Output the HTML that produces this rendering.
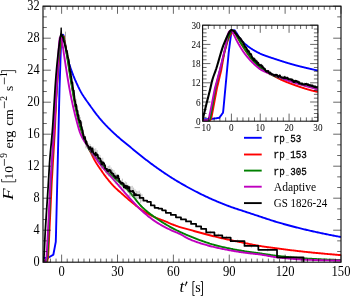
<!DOCTYPE html>
<html><head><meta charset="utf-8">
<style>
html,body{margin:0;padding:0;background:#fff;}
body{width:350px;height:296px;overflow:hidden;font-family:"Liberation Serif",serif;}
svg{display:block;opacity:0.999;will-change:transform;}
text{font-family:"Liberation Serif",serif;fill:#000;}
.mono{font-family:"Liberation Mono",monospace;}
</style></head><body>
<svg width="350" height="296" viewBox="0 0 350 296">
<rect width="350" height="296" fill="#fff"/>
<defs>
<clipPath id="cm"><rect x="43.0" y="6.2" width="298.0" height="256.0"/></clipPath>
<clipPath id="ci"><rect x="202.6" y="25.2" width="115.29999999999998" height="96.0"/></clipPath>
</defs>
<g clip-path="url(#cm)" fill="none" stroke-width="1.9" stroke-linejoin="round" stroke-linecap="butt">
<path d="M42.50,257.92 L42.69,257.92 L42.87,257.92 L43.06,257.92 L43.25,257.92 L43.43,257.92 L43.62,257.92 L43.81,257.92 L43.99,257.92 L44.18,257.92 L44.37,257.92 L44.56,257.92 L44.74,257.92 L44.93,257.92 L45.12,257.92 L45.30,257.92 L45.49,257.92 L45.68,257.92 L45.86,257.92 L46.05,257.92 L46.24,257.92 L46.42,257.92 L46.61,257.92 L46.80,257.92 L46.98,257.92 L47.17,257.92 L47.36,257.92 L47.55,257.92 L47.73,257.92 L47.92,257.82 L48.11,257.71 L48.29,257.60 L48.48,257.50 L48.67,257.39 L48.85,257.28 L49.04,257.18 L49.23,257.07 L49.41,256.97 L49.60,256.86 L49.79,256.75 L49.97,256.65 L50.16,256.54 L50.35,256.44 L50.54,256.33 L50.72,256.22 L50.91,256.12 L51.10,256.01 L51.28,255.91 L51.47,255.80 L51.66,255.69 L51.84,255.59 L52.03,255.48 L52.22,255.38 L52.40,255.27 L52.59,255.16 L52.78,255.06 L52.96,254.95 L53.15,254.85 L53.34,254.74 L53.53,253.75 L53.71,252.77 L53.90,251.78 L54.09,250.79 L54.27,249.81 L54.46,248.82 L54.65,247.83 L54.83,246.85 L55.02,245.86 L55.21,244.87 L55.39,243.89 L55.58,242.90 L55.77,241.91 L55.95,236.19 L56.14,228.44 L56.33,220.69 L56.52,212.94 L56.70,205.19 L56.89,197.43 L57.08,189.68 L57.26,181.93 L57.45,174.18 L57.64,166.43 L57.82,158.68 L58.01,150.93 L58.20,143.18 L58.38,135.42 L58.57,127.67 L58.76,119.92 L58.94,112.17 L59.13,104.42 L59.32,96.67 L59.51,88.92 L59.69,83.35 L59.88,77.78 L60.07,72.22 L60.25,66.65 L60.44,61.08 L60.63,55.51 L60.81,49.95 L61.00,44.38 L61.19,42.49 L61.37,40.88 L61.56,39.54 L61.75,38.44 L61.93,37.57 L62.12,36.90 L62.31,36.27 L62.50,35.71 L62.68,35.25 L62.87,34.95 L63.06,34.84 L63.24,34.98 L63.43,35.39 L63.62,36.00 L63.80,36.77 L63.99,37.64 L64.18,38.58 L64.36,39.51 L64.55,40.40 L64.74,41.31 L64.92,42.33 L65.11,43.43 L65.30,44.57 L65.49,45.75 L65.67,46.92 L65.86,48.06 L66.05,49.15 L66.23,50.22 L66.42,51.31 L66.61,52.40 L66.79,53.49 L66.98,54.55 L67.17,55.58 L67.35,56.55 L67.54,57.47 L67.73,58.30 L67.91,59.07 L68.10,59.83 L68.29,60.56 L68.48,61.26 L68.66,61.95 L68.85,62.62 L69.04,63.27 L69.22,63.91 L69.41,64.52 L69.60,65.13 L69.78,65.72 L69.97,66.30 L70.16,66.86 L70.34,67.42 L70.53,67.97 L70.72,68.51 L70.90,69.04 L71.09,69.57 L71.28,70.10 L71.47,70.62 L71.65,71.14 L71.84,71.66 L72.03,72.17 L72.21,72.68 L72.40,73.18 L72.59,73.68 L72.77,74.16 L72.96,74.64 L73.15,75.12 L73.33,75.59 L73.52,76.05 L73.71,76.51 L73.89,76.96 L74.08,77.41 L74.27,77.85 L74.46,78.29 L74.64,78.73 L74.83,79.16 L75.02,79.59 L75.20,80.02 L75.39,80.44 L75.58,80.86 L75.76,81.28 L75.95,81.70 L76.14,82.11 L76.32,82.53 L76.51,82.94 L76.70,83.35 L76.88,83.76 L77.07,84.17 L77.26,84.58 L77.45,84.99 L77.63,85.39 L77.82,85.80 L78.01,86.20 L78.19,86.60 L78.38,86.99 L78.57,87.38 L78.75,87.77 L78.94,88.16 L79.13,88.54 L79.31,88.92 L79.50,89.29 L79.69,89.66 L79.87,90.03 L80.06,90.39 L80.25,90.74 L80.44,91.09 L80.62,91.43 L80.81,91.77 L81.00,92.10 L81.18,92.42 L81.37,92.75 L81.56,93.06 L81.74,93.38 L81.93,93.69 L82.12,94.00 L82.30,94.31 L82.49,94.61 L82.68,94.91 L82.86,95.21 L83.05,95.50 L83.24,95.79 L83.43,96.08 L83.61,96.37 L83.80,96.66 L83.99,96.94 L84.17,97.22 L84.36,97.50 L84.55,97.78 L84.73,98.05 L84.92,98.33 L85.11,98.60 L85.29,98.87 L85.48,99.14 L85.67,99.41 L85.85,99.67 L86.04,99.94 L86.23,100.20 L86.42,100.47 L86.60,100.73 L86.79,100.99 L86.98,101.25 L87.16,101.51 L87.35,101.77 L87.54,102.03 L87.72,102.29 L87.91,102.55 L88.10,102.81 L88.28,103.07 L88.47,103.33 L88.66,103.59 L88.84,103.85 L89.03,104.11 L89.22,104.37 L89.41,104.63 L89.59,104.90 L89.78,105.16 L89.97,105.42 L90.15,105.68 L90.34,105.94 L90.53,106.20 L90.71,106.46 L90.90,106.72 L91.09,106.98 L91.27,107.24 L91.46,107.50 L91.65,107.76 L91.83,108.02 L92.02,108.27 L92.21,108.53 L92.40,108.79 L92.58,109.05 L92.77,109.30 L92.96,109.56 L93.14,109.82 L93.33,110.07 L93.52,110.33 L93.70,110.58 L93.89,110.83 L94.08,111.09 L94.26,111.34 L94.45,111.59 L94.64,111.84 L94.82,112.09 L95.01,112.34 L95.20,112.59 L95.39,112.84 L95.57,113.09 L95.76,113.34 L95.95,113.58 L96.13,113.83 L96.32,114.07 L96.51,114.32 L96.69,114.56 L96.88,114.80 L97.07,115.04 L97.25,115.28 L97.44,115.52 L97.63,115.76 L97.81,116.00 L98.00,116.23 L98.19,116.47 L98.38,116.70 L98.56,116.94 L98.75,117.17 L98.94,117.40 L99.12,117.63 L99.31,117.86 L99.50,118.08 L99.68,118.31 L99.87,118.54 L100.06,118.76 L100.24,118.98 L100.43,119.21 L100.62,119.43 L100.80,119.64 L100.99,119.86 L101.18,120.08 L101.37,120.29 L101.55,120.51 L101.74,120.72 L101.93,120.93 L102.11,121.14 L102.30,121.35 L102.49,121.56 L102.67,121.77 L102.86,121.98 L103.05,122.18 L103.23,122.39 L103.42,122.60 L103.61,122.80 L103.79,123.00 L103.98,123.21 L104.17,123.41 L104.36,123.61 L104.54,123.81 L104.73,124.01 L104.92,124.21 L105.10,124.41 L105.29,124.61 L105.48,124.80 L105.66,125.00 L105.85,125.20 L106.04,125.39 L106.22,125.59 L106.41,125.78 L106.60,125.97 L106.78,126.17 L106.97,126.36 L107.16,126.55 L107.35,126.74 L107.53,126.93 L107.72,127.12 L107.91,127.31 L108.09,127.50 L108.28,127.69 L108.47,127.87 L108.65,128.06 L108.84,128.25 L109.03,128.43 L109.21,128.62 L109.40,128.80 L109.59,128.98 L109.77,129.17 L109.96,129.35 L110.15,129.53 L110.34,129.72 L110.52,129.90 L110.71,130.08 L110.90,130.26 L111.08,130.44 L111.27,130.62 L111.46,130.80 L111.64,130.98 L111.83,131.16 L112.02,131.33 L112.20,131.51 L112.39,131.69 L112.58,131.87 L112.76,132.04 L112.95,132.22 L113.14,132.39 L113.33,132.57 L113.51,132.74 L113.70,132.92 L113.89,133.09 L114.07,133.27 L114.26,133.44 L114.45,133.61 L114.63,133.79 L114.82,133.96 L115.01,134.13 L115.19,134.30 L115.38,134.48 L115.57,134.65 L115.75,134.82 L115.94,134.99 L116.13,135.16 L116.32,135.33 L116.50,135.50 L116.69,135.67 L116.88,135.84 L117.06,136.01 L117.25,136.18 L118.18,137.01 L119.12,137.83 L120.05,138.63 L120.99,139.42 L121.92,140.20 L122.86,140.97 L123.79,141.74 L124.72,142.50 L125.66,143.26 L126.59,144.02 L127.53,144.78 L128.46,145.55 L129.40,146.32 L130.33,147.09 L131.27,147.87 L132.20,148.64 L133.13,149.41 L134.07,150.18 L135.00,150.95 L135.94,151.72 L136.87,152.48 L137.81,153.24 L138.74,154.00 L139.68,154.75 L140.61,155.50 L141.54,156.25 L142.48,156.98 L143.41,157.71 L144.35,158.44 L145.28,159.16 L146.22,159.88 L147.15,160.59 L148.08,161.31 L149.02,162.01 L149.95,162.72 L150.89,163.42 L151.82,164.12 L152.76,164.81 L153.69,165.49 L154.62,166.17 L155.56,166.85 L156.49,167.52 L157.43,168.19 L158.36,168.85 L159.30,169.50 L160.23,170.15 L161.17,170.80 L162.10,171.44 L163.03,172.08 L163.97,172.71 L164.90,173.34 L165.84,173.96 L166.77,174.58 L167.71,175.20 L168.64,175.81 L169.57,176.42 L170.51,177.02 L171.44,177.61 L172.38,178.20 L173.31,178.79 L174.25,179.37 L175.18,179.94 L176.12,180.51 L177.05,181.08 L177.98,181.64 L178.92,182.19 L179.85,182.74 L180.79,183.29 L181.72,183.83 L182.66,184.36 L183.59,184.90 L184.53,185.42 L185.46,185.95 L186.39,186.46 L187.33,186.98 L188.26,187.49 L189.20,188.00 L190.13,188.51 L191.07,189.01 L192.00,189.51 L192.93,190.01 L193.87,190.50 L194.80,190.99 L195.74,191.48 L196.67,191.96 L197.61,192.43 L198.54,192.91 L199.47,193.37 L200.41,193.84 L201.34,194.30 L202.28,194.75 L203.21,195.20 L204.15,195.65 L205.08,196.09 L206.02,196.54 L206.95,196.97 L207.88,197.41 L208.82,197.84 L209.75,198.26 L210.69,198.68 L211.62,199.10 L212.56,199.52 L213.49,199.93 L214.43,200.34 L215.36,200.74 L216.29,201.14 L217.23,201.53 L218.16,201.92 L219.10,202.31 L220.03,202.70 L220.97,203.08 L221.90,203.46 L222.83,203.83 L223.77,204.20 L224.70,204.57 L225.64,204.93 L226.57,205.29 L227.51,205.64 L228.44,205.99 L229.38,206.34 L230.31,206.68 L231.24,207.02 L232.18,207.35 L233.11,207.68 L234.05,208.00 L234.98,208.32 L235.92,208.63 L236.85,208.94 L237.78,209.24 L238.72,209.55 L239.65,209.85 L240.59,210.15 L241.52,210.45 L242.46,210.75 L243.39,211.06 L244.32,211.36 L245.26,211.67 L246.19,211.98 L247.13,212.29 L248.06,212.60 L249.00,212.91 L249.93,213.22 L250.87,213.53 L251.80,213.84 L252.73,214.16 L253.67,214.47 L254.60,214.78 L255.54,215.09 L256.47,215.40 L257.41,215.71 L258.34,216.01 L259.27,216.32 L260.21,216.63 L261.14,216.93 L262.08,217.24 L263.01,217.55 L263.95,217.86 L264.88,218.17 L265.82,218.48 L266.75,218.80 L267.68,219.11 L268.62,219.42 L269.55,219.72 L270.49,220.03 L271.42,220.33 L272.36,220.63 L273.29,220.93 L274.23,221.23 L275.16,221.52 L276.09,221.81 L277.03,222.09 L277.96,222.37 L278.90,222.64 L279.83,222.91 L280.77,223.18 L281.70,223.44 L282.63,223.71 L283.57,223.97 L284.50,224.23 L285.44,224.49 L286.37,224.75 L287.31,225.01 L288.24,225.26 L289.18,225.51 L290.11,225.76 L291.04,226.01 L291.98,226.26 L292.91,226.51 L293.85,226.75 L294.78,226.99 L295.72,227.23 L296.65,227.47 L297.58,227.70 L298.52,227.94 L299.45,228.17 L300.39,228.40 L301.32,228.63 L302.26,228.86 L303.19,229.08 L304.12,229.30 L305.06,229.53 L305.99,229.75 L306.93,229.96 L307.86,230.18 L308.80,230.39 L309.73,230.61 L310.67,230.82 L311.60,231.03 L312.53,231.24 L313.47,231.45 L314.40,231.66 L315.34,231.86 L316.27,232.07 L317.21,232.27 L318.14,232.48 L319.07,232.68 L320.01,232.88 L320.94,233.08 L321.88,233.28 L322.81,233.47 L323.75,233.67 L324.68,233.86 L325.62,234.05 L326.55,234.24 L327.48,234.43 L328.42,234.62 L329.35,234.81 L330.29,234.99 L331.22,235.18 L332.16,235.36 L333.09,235.54 L334.02,235.72 L334.96,235.89 L335.89,236.07 L336.83,236.24 L337.76,236.41 L338.70,236.58 L339.63,236.75 L340.57,236.92 L341.50,237.08" stroke="#0000ff"/>
<path d="M42.50,261.50 L42.69,261.50 L42.87,261.50 L43.06,261.50 L43.25,261.50 L43.43,261.50 L43.62,261.50 L43.81,261.50 L43.99,261.50 L44.18,261.50 L44.37,261.50 L44.56,261.50 L44.74,261.50 L44.93,261.50 L45.12,261.50 L45.30,261.50 L45.49,261.50 L45.68,261.50 L45.86,261.50 L46.05,261.50 L46.24,261.50 L46.42,261.50 L46.61,261.50 L46.80,261.50 L46.98,261.50 L47.17,261.50 L47.36,260.70 L47.55,259.91 L47.73,259.11 L47.92,258.32 L48.11,257.52 L48.29,253.87 L48.48,250.21 L48.67,246.55 L48.85,242.89 L49.04,239.23 L49.23,235.31 L49.41,231.39 L49.60,227.46 L49.79,223.54 L49.97,219.62 L50.16,215.70 L50.35,211.78 L50.54,207.85 L50.72,203.93 L50.91,200.01 L51.10,196.09 L51.28,192.17 L51.47,188.24 L51.66,184.32 L51.84,180.74 L52.03,177.67 L52.22,174.59 L52.40,171.52 L52.59,168.45 L52.78,165.38 L52.96,162.30 L53.15,159.23 L53.34,156.16 L53.53,153.08 L53.71,150.01 L53.90,146.94 L54.09,143.87 L54.27,140.79 L54.46,137.72 L54.65,134.65 L54.83,130.60 L55.02,126.54 L55.21,122.49 L55.39,118.44 L55.58,114.39 L55.77,110.33 L55.95,106.28 L56.14,102.23 L56.33,98.18 L56.52,94.12 L56.70,90.77 L56.89,88.12 L57.08,85.47 L57.26,82.82 L57.45,80.17 L57.64,77.52 L57.82,74.87 L58.01,72.22 L58.20,69.56 L58.38,66.91 L58.57,64.26 L58.76,62.17 L58.94,60.10 L59.13,58.08 L59.32,56.12 L59.51,54.25 L59.69,52.48 L59.88,50.83 L60.07,49.31 L60.25,47.95 L60.44,46.77 L60.63,45.70 L60.81,44.69 L61.00,43.73 L61.19,42.84 L61.37,42.00 L61.56,41.23 L61.75,40.53 L61.93,39.89 L62.12,39.31 L62.31,38.81 L62.50,38.34 L62.68,37.86 L62.87,37.42 L63.06,37.02 L63.24,36.71 L63.43,36.50 L63.62,36.43 L63.80,36.66 L63.99,37.29 L64.18,38.22 L64.36,39.33 L64.55,40.54 L64.74,41.72 L64.92,42.79 L65.11,43.77 L65.30,44.77 L65.49,45.79 L65.67,46.83 L65.86,47.88 L66.05,48.95 L66.23,50.02 L66.42,51.11 L66.61,52.20 L66.79,53.30 L66.98,54.41 L67.17,55.51 L67.35,56.63 L67.54,57.76 L67.73,58.91 L67.91,60.07 L68.10,61.24 L68.29,62.42 L68.48,63.61 L68.66,64.81 L68.85,66.01 L69.04,67.22 L69.22,68.43 L69.41,69.64 L69.60,70.85 L69.78,72.06 L69.97,73.27 L70.16,74.48 L70.34,75.68 L70.53,76.87 L70.72,78.06 L70.90,79.24 L71.09,80.40 L71.28,81.56 L71.47,82.70 L71.65,83.83 L71.84,84.94 L72.03,86.04 L72.21,87.15 L72.40,88.26 L72.59,89.36 L72.77,90.46 L72.96,91.56 L73.15,92.66 L73.33,93.75 L73.52,94.84 L73.71,95.92 L73.89,97.00 L74.08,98.07 L74.27,99.12 L74.46,100.17 L74.64,101.21 L74.83,102.24 L75.02,103.25 L75.20,104.26 L75.39,105.24 L75.58,106.22 L75.76,107.18 L75.95,108.12 L76.14,109.04 L76.32,109.95 L76.51,110.83 L76.70,111.71 L76.88,112.58 L77.07,113.44 L77.26,114.30 L77.45,115.14 L77.63,115.97 L77.82,116.80 L78.01,117.61 L78.19,118.42 L78.38,119.21 L78.57,119.99 L78.75,120.76 L78.94,121.52 L79.13,122.26 L79.31,122.99 L79.50,123.71 L79.69,124.42 L79.87,125.11 L80.06,125.78 L80.25,126.45 L80.44,127.09 L80.62,127.73 L80.81,128.35 L81.00,128.96 L81.18,129.57 L81.37,130.16 L81.56,130.75 L81.74,131.32 L81.93,131.89 L82.12,132.45 L82.30,133.00 L82.49,133.54 L82.68,134.07 L82.86,134.60 L83.05,135.12 L83.24,135.63 L83.43,136.13 L83.61,136.63 L83.80,137.12 L83.99,137.61 L84.17,138.08 L84.36,138.56 L84.55,139.02 L84.73,139.48 L84.92,139.93 L85.11,140.38 L85.29,140.81 L85.48,141.24 L85.67,141.66 L85.85,142.08 L86.04,142.49 L86.23,142.90 L86.42,143.30 L86.60,143.70 L86.79,144.09 L86.98,144.48 L87.16,144.87 L87.35,145.26 L87.54,145.64 L87.72,146.02 L87.91,146.40 L88.10,146.79 L88.28,147.17 L88.47,147.55 L88.66,147.93 L88.84,148.31 L89.03,148.70 L89.22,149.09 L89.41,149.48 L89.59,149.87 L89.78,150.27 L89.97,150.66 L90.15,151.06 L90.34,151.45 L90.53,151.85 L90.71,152.25 L90.90,152.65 L91.09,153.05 L91.27,153.44 L91.46,153.84 L91.65,154.23 L91.83,154.63 L92.02,155.02 L92.21,155.41 L92.40,155.80 L92.58,156.18 L92.77,156.56 L92.96,156.94 L93.14,157.32 L93.33,157.69 L93.52,158.06 L93.70,158.42 L93.89,158.78 L94.08,159.13 L94.26,159.48 L94.45,159.83 L94.64,160.16 L94.82,160.50 L95.01,160.82 L95.20,161.15 L95.39,161.46 L95.57,161.78 L95.76,162.09 L95.95,162.40 L96.13,162.71 L96.32,163.01 L96.51,163.31 L96.69,163.61 L96.88,163.90 L97.07,164.20 L97.25,164.49 L97.44,164.78 L97.63,165.06 L97.81,165.35 L98.00,165.63 L98.19,165.91 L98.38,166.19 L98.56,166.47 L98.75,166.74 L98.94,167.02 L99.12,167.29 L99.31,167.57 L99.50,167.84 L99.68,168.11 L99.87,168.38 L100.06,168.66 L100.24,168.93 L100.43,169.20 L100.62,169.47 L100.80,169.74 L100.99,170.01 L101.18,170.29 L101.37,170.56 L101.55,170.83 L101.74,171.11 L101.93,171.38 L102.11,171.66 L102.30,171.93 L102.49,172.20 L102.67,172.48 L102.86,172.75 L103.05,173.02 L103.23,173.28 L103.42,173.55 L103.61,173.82 L103.79,174.08 L103.98,174.34 L104.17,174.60 L104.36,174.85 L104.54,175.11 L104.73,175.36 L104.92,175.61 L105.10,175.85 L105.29,176.10 L105.48,176.34 L105.66,176.59 L105.85,176.83 L106.04,177.07 L106.22,177.31 L106.41,177.56 L106.60,177.80 L106.78,178.04 L106.97,178.27 L107.16,178.51 L107.35,178.75 L107.53,178.99 L107.72,179.22 L107.91,179.45 L108.09,179.69 L108.28,179.92 L108.47,180.15 L108.65,180.38 L108.84,180.61 L109.03,180.84 L109.21,181.07 L109.40,181.29 L109.59,181.52 L109.77,181.74 L109.96,181.97 L110.15,182.19 L110.34,182.41 L110.52,182.63 L110.71,182.84 L110.90,183.06 L111.08,183.28 L111.27,183.49 L111.46,183.70 L111.64,183.91 L111.83,184.12 L112.02,184.33 L112.20,184.54 L112.39,184.74 L112.58,184.95 L112.76,185.15 L112.95,185.35 L113.14,185.55 L113.33,185.75 L113.51,185.95 L113.70,186.14 L113.89,186.33 L114.07,186.52 L114.26,186.71 L114.45,186.90 L114.63,187.09 L114.82,187.27 L115.01,187.46 L115.19,187.64 L115.38,187.82 L115.57,188.00 L115.75,188.18 L115.94,188.36 L116.13,188.54 L116.32,188.71 L116.50,188.89 L116.69,189.06 L116.88,189.23 L117.06,189.41 L117.25,189.58 L118.18,190.42 L119.12,191.26 L120.05,192.08 L120.99,192.90 L121.92,193.73 L122.86,194.56 L123.79,195.39 L124.72,196.20 L125.66,197.02 L126.59,197.82 L127.53,198.62 L128.46,199.41 L129.40,200.20 L130.33,200.98 L131.27,201.76 L132.20,202.54 L133.13,203.33 L134.07,204.11 L135.00,204.88 L135.94,205.64 L136.87,206.38 L137.81,207.11 L138.74,207.81 L139.68,208.48 L140.61,209.14 L141.54,209.79 L142.48,210.43 L143.41,211.05 L144.35,211.65 L145.28,212.24 L146.22,212.81 L147.15,213.36 L148.08,213.89 L149.02,214.40 L149.95,214.89 L150.89,215.38 L151.82,215.85 L152.76,216.30 L153.69,216.74 L154.62,217.17 L155.56,217.59 L156.49,218.00 L157.43,218.38 L158.36,218.75 L159.30,219.10 L160.23,219.44 L161.17,219.78 L162.10,220.12 L163.03,220.46 L163.97,220.81 L164.90,221.18 L165.84,221.57 L166.77,221.98 L167.71,222.41 L168.64,222.83 L169.57,223.25 L170.51,223.65 L171.44,224.03 L172.38,224.40 L173.31,224.76 L174.25,225.12 L175.18,225.47 L176.12,225.81 L177.05,226.14 L177.98,226.47 L178.92,226.78 L179.85,227.08 L180.79,227.37 L181.72,227.65 L182.66,227.92 L183.59,228.18 L184.53,228.43 L185.46,228.68 L186.39,228.93 L187.33,229.18 L188.26,229.43 L189.20,229.68 L190.13,229.94 L191.07,230.19 L192.00,230.45 L192.93,230.71 L193.87,230.97 L194.80,231.22 L195.74,231.48 L196.67,231.74 L197.61,232.00 L198.54,232.26 L199.47,232.51 L200.41,232.77 L201.34,233.02 L202.28,233.28 L203.21,233.53 L204.15,233.79 L205.08,234.04 L206.02,234.29 L206.95,234.54 L207.88,234.78 L208.82,235.03 L209.75,235.27 L210.69,235.51 L211.62,235.75 L212.56,235.99 L213.49,236.22 L214.43,236.45 L215.36,236.68 L216.29,236.91 L217.23,237.13 L218.16,237.35 L219.10,237.57 L220.03,237.78 L220.97,238.00 L221.90,238.21 L222.83,238.42 L223.77,238.63 L224.70,238.84 L225.64,239.04 L226.57,239.25 L227.51,239.45 L228.44,239.65 L229.38,239.85 L230.31,240.05 L231.24,240.25 L232.18,240.45 L233.11,240.64 L234.05,240.84 L234.98,241.03 L235.92,241.23 L236.85,241.42 L237.78,241.61 L238.72,241.80 L239.65,241.99 L240.59,242.19 L241.52,242.38 L242.46,242.56 L243.39,242.75 L244.32,242.94 L245.26,243.13 L246.19,243.32 L247.13,243.51 L248.06,243.70 L249.00,243.89 L249.93,244.08 L250.87,244.27 L251.80,244.46 L252.73,244.65 L253.67,244.83 L254.60,245.01 L255.54,245.19 L256.47,245.37 L257.41,245.54 L258.34,245.71 L259.27,245.87 L260.21,246.02 L261.14,246.17 L262.08,246.32 L263.01,246.47 L263.95,246.61 L264.88,246.75 L265.82,246.89 L266.75,247.03 L267.68,247.16 L268.62,247.29 L269.55,247.42 L270.49,247.55 L271.42,247.68 L272.36,247.80 L273.29,247.93 L274.23,248.05 L275.16,248.18 L276.09,248.30 L277.03,248.42 L277.96,248.54 L278.90,248.66 L279.83,248.79 L280.77,248.91 L281.70,249.03 L282.63,249.15 L283.57,249.27 L284.50,249.39 L285.44,249.51 L286.37,249.63 L287.31,249.74 L288.24,249.86 L289.18,249.98 L290.11,250.09 L291.04,250.21 L291.98,250.32 L292.91,250.43 L293.85,250.55 L294.78,250.66 L295.72,250.77 L296.65,250.88 L297.58,250.99 L298.52,251.10 L299.45,251.20 L300.39,251.31 L301.32,251.41 L302.26,251.52 L303.19,251.62 L304.12,251.72 L305.06,251.82 L305.99,251.92 L306.93,252.02 L307.86,252.11 L308.80,252.21 L309.73,252.30 L310.67,252.40 L311.60,252.49 L312.53,252.59 L313.47,252.68 L314.40,252.77 L315.34,252.86 L316.27,252.96 L317.21,253.05 L318.14,253.14 L319.07,253.22 L320.01,253.31 L320.94,253.40 L321.88,253.49 L322.81,253.57 L323.75,253.66 L324.68,253.75 L325.62,253.83 L326.55,253.91 L327.48,254.00 L328.42,254.08 L329.35,254.16 L330.29,254.24 L331.22,254.32 L332.16,254.40 L333.09,254.48 L334.02,254.55 L334.96,254.63 L335.89,254.70 L336.83,254.78 L337.76,254.85 L338.70,254.93 L339.63,255.00 L340.57,255.07 L341.50,255.14" stroke="#ff0000"/>
<path d="M42.50,261.50 L42.69,261.50 L42.87,261.50 L43.06,261.50 L43.25,261.50 L43.43,261.50 L43.62,261.50 L43.81,261.50 L43.99,261.50 L44.18,261.50 L44.37,261.50 L44.56,261.50 L44.74,261.50 L44.93,261.50 L45.12,261.50 L45.30,261.50 L45.49,261.50 L45.68,261.50 L45.86,261.50 L46.05,261.50 L46.24,261.50 L46.42,261.50 L46.61,261.10 L46.80,260.31 L46.98,259.51 L47.17,258.72 L47.36,257.92 L47.55,255.54 L47.73,251.56 L47.92,247.58 L48.11,243.61 L48.29,239.63 L48.48,235.50 L48.67,231.22 L48.85,226.93 L49.04,222.65 L49.23,218.37 L49.41,214.09 L49.60,209.80 L49.79,205.52 L49.97,201.24 L50.16,196.96 L50.35,192.67 L50.54,188.39 L50.72,184.11 L50.91,180.50 L51.10,177.55 L51.28,174.60 L51.47,171.65 L51.66,168.71 L51.84,165.76 L52.03,162.81 L52.22,159.86 L52.40,156.92 L52.59,153.97 L52.78,151.02 L52.96,148.07 L53.15,145.13 L53.34,142.18 L53.53,139.23 L53.71,136.29 L53.90,133.34 L54.09,130.39 L54.27,127.45 L54.46,124.50 L54.65,121.56 L54.83,118.61 L55.02,115.67 L55.21,112.73 L55.39,109.78 L55.58,106.84 L55.77,103.89 L55.95,100.95 L56.14,98.00 L56.33,95.06 L56.52,92.12 L56.70,89.17 L56.89,86.23 L57.08,83.28 L57.26,80.34 L57.45,77.39 L57.64,74.45 L57.82,71.50 L58.01,68.56 L58.20,65.62 L58.38,62.67 L58.57,60.56 L58.76,58.47 L58.94,56.42 L59.13,54.41 L59.32,52.47 L59.51,50.61 L59.69,48.84 L59.88,47.19 L60.07,45.66 L60.25,44.28 L60.44,43.05 L60.63,41.99 L60.81,41.02 L61.00,40.04 L61.19,39.10 L61.37,38.25 L61.56,37.51 L61.75,36.93 L61.93,36.56 L62.12,36.43 L62.31,36.43 L62.50,36.43 L62.68,36.43 L62.87,36.43 L63.06,36.43 L63.24,36.60 L63.43,37.06 L63.62,37.74 L63.80,38.57 L63.99,39.48 L64.18,40.40 L64.36,41.25 L64.55,42.10 L64.74,42.99 L64.92,43.94 L65.11,44.92 L65.30,45.94 L65.49,47.00 L65.67,48.07 L65.86,49.17 L66.05,50.27 L66.23,51.39 L66.42,52.51 L66.61,53.62 L66.79,54.72 L66.98,55.82 L67.17,56.94 L67.35,58.08 L67.54,59.23 L67.73,60.40 L67.91,61.57 L68.10,62.76 L68.29,63.96 L68.48,65.16 L68.66,66.37 L68.85,67.58 L69.04,68.79 L69.22,70.01 L69.41,71.23 L69.60,72.44 L69.78,73.65 L69.97,74.86 L70.16,76.06 L70.34,77.25 L70.53,78.43 L70.72,79.60 L70.90,80.76 L71.09,81.90 L71.28,83.03 L71.47,84.15 L71.65,85.25 L71.84,86.35 L72.03,87.46 L72.21,88.56 L72.40,89.67 L72.59,90.77 L72.77,91.87 L72.96,92.96 L73.15,94.05 L73.33,95.13 L73.52,96.20 L73.71,97.27 L73.89,98.33 L74.08,99.38 L74.27,100.42 L74.46,101.44 L74.64,102.46 L74.83,103.46 L75.02,104.45 L75.20,105.42 L75.39,106.38 L75.58,107.32 L75.76,108.24 L75.95,109.15 L76.14,110.04 L76.32,110.92 L76.51,111.79 L76.70,112.65 L76.88,113.50 L77.07,114.35 L77.26,115.18 L77.45,116.01 L77.63,116.83 L77.82,117.63 L78.01,118.42 L78.19,119.21 L78.38,119.98 L78.57,120.73 L78.75,121.48 L78.94,122.21 L79.13,122.93 L79.31,123.63 L79.50,124.32 L79.69,124.99 L79.87,125.65 L80.06,126.29 L80.25,126.92 L80.44,127.54 L80.62,128.14 L80.81,128.74 L81.00,129.33 L81.18,129.91 L81.37,130.48 L81.56,131.04 L81.74,131.60 L81.93,132.14 L82.12,132.68 L82.30,133.21 L82.49,133.74 L82.68,134.26 L82.86,134.77 L83.05,135.28 L83.24,135.78 L83.43,136.27 L83.61,136.76 L83.80,137.25 L83.99,137.73 L84.17,138.21 L84.36,138.69 L84.55,139.16 L84.73,139.63 L84.92,140.09 L85.11,140.56 L85.29,141.02 L85.48,141.48 L85.67,141.95 L85.85,142.41 L86.04,142.88 L86.23,143.33 L86.42,143.79 L86.60,144.24 L86.79,144.68 L86.98,145.12 L87.16,145.55 L87.35,145.97 L87.54,146.38 L87.72,146.78 L87.91,147.17 L88.10,147.55 L88.28,147.91 L88.47,148.26 L88.66,148.59 L88.84,148.90 L89.03,149.20 L89.22,149.49 L89.41,149.77 L89.59,150.05 L89.78,150.31 L89.97,150.57 L90.15,150.82 L90.34,151.07 L90.53,151.31 L90.71,151.55 L90.90,151.78 L91.09,152.00 L91.27,152.22 L91.46,152.44 L91.65,152.66 L91.83,152.87 L92.02,153.08 L92.21,153.29 L92.40,153.49 L92.58,153.70 L92.77,153.91 L92.96,154.11 L93.14,154.32 L93.33,154.53 L93.52,154.73 L93.70,154.94 L93.89,155.16 L94.08,155.37 L94.26,155.59 L94.45,155.81 L94.64,156.04 L94.82,156.26 L95.01,156.48 L95.20,156.70 L95.39,156.93 L95.57,157.15 L95.76,157.37 L95.95,157.59 L96.13,157.81 L96.32,158.03 L96.51,158.24 L96.69,158.46 L96.88,158.68 L97.07,158.90 L97.25,159.12 L97.44,159.33 L97.63,159.55 L97.81,159.77 L98.00,159.98 L98.19,160.20 L98.38,160.42 L98.56,160.64 L98.75,160.85 L98.94,161.07 L99.12,161.29 L99.31,161.51 L99.50,161.73 L99.68,161.95 L99.87,162.17 L100.06,162.39 L100.24,162.61 L100.43,162.83 L100.62,163.06 L100.80,163.28 L100.99,163.51 L101.18,163.73 L101.37,163.96 L101.55,164.19 L101.74,164.42 L101.93,164.65 L102.11,164.89 L102.30,165.13 L102.49,165.37 L102.67,165.61 L102.86,165.86 L103.05,166.10 L103.23,166.35 L103.42,166.59 L103.61,166.84 L103.79,167.08 L103.98,167.33 L104.17,167.58 L104.36,167.82 L104.54,168.07 L104.73,168.31 L104.92,168.55 L105.10,168.79 L105.29,169.03 L105.48,169.27 L105.66,169.50 L105.85,169.73 L106.04,169.96 L106.22,170.19 L106.41,170.41 L106.60,170.63 L106.78,170.85 L106.97,171.06 L107.16,171.27 L107.35,171.47 L107.53,171.67 L107.72,171.87 L107.91,172.06 L108.09,172.24 L108.28,172.43 L108.47,172.61 L108.65,172.79 L108.84,172.97 L109.03,173.14 L109.21,173.32 L109.40,173.49 L109.59,173.66 L109.77,173.82 L109.96,173.99 L110.15,174.15 L110.34,174.32 L110.52,174.48 L110.71,174.64 L110.90,174.79 L111.08,174.95 L111.27,175.11 L111.46,175.26 L111.64,175.42 L111.83,175.58 L112.02,175.73 L112.20,175.88 L112.39,176.04 L112.58,176.19 L112.76,176.35 L112.95,176.50 L113.14,176.66 L113.33,176.81 L113.51,176.97 L113.70,177.13 L113.89,177.29 L114.07,177.45 L114.26,177.61 L114.45,177.77 L114.63,177.93 L114.82,178.10 L115.01,178.26 L115.19,178.43 L115.38,178.60 L115.57,178.77 L115.75,178.93 L115.94,179.10 L116.13,179.27 L116.32,179.44 L116.50,179.60 L116.69,179.77 L116.88,179.94 L117.06,180.11 L117.25,180.27 L118.18,181.10 L119.12,181.94 L120.05,182.77 L120.99,183.61 L121.92,184.46 L122.86,185.32 L123.79,186.19 L124.72,187.07 L125.66,187.97 L126.59,188.89 L127.53,189.83 L128.46,190.80 L129.40,191.81 L130.33,192.87 L131.27,193.98 L132.20,195.13 L133.13,196.30 L134.07,197.49 L135.00,198.69 L135.94,199.89 L136.87,201.07 L137.81,202.24 L138.74,203.37 L139.68,204.47 L140.61,205.51 L141.54,206.50 L142.48,207.42 L143.41,208.29 L144.35,209.13 L145.28,209.95 L146.22,210.74 L147.15,211.51 L148.08,212.27 L149.02,213.00 L149.95,213.72 L150.89,214.43 L151.82,215.12 L152.76,215.80 L153.69,216.46 L154.62,217.12 L155.56,217.78 L156.49,218.42 L157.43,219.07 L158.36,219.70 L159.30,220.32 L160.23,220.93 L161.17,221.53 L162.10,222.13 L163.03,222.71 L163.97,223.29 L164.90,223.86 L165.84,224.42 L166.77,224.97 L167.71,225.51 L168.64,226.05 L169.57,226.57 L170.51,227.10 L171.44,227.61 L172.38,228.11 L173.31,228.60 L174.25,229.08 L175.18,229.56 L176.12,230.02 L177.05,230.48 L177.98,230.94 L178.92,231.38 L179.85,231.83 L180.79,232.27 L181.72,232.70 L182.66,233.13 L183.59,233.55 L184.53,233.97 L185.46,234.38 L186.39,234.78 L187.33,235.18 L188.26,235.58 L189.20,235.96 L190.13,236.35 L191.07,236.73 L192.00,237.11 L192.93,237.49 L193.87,237.86 L194.80,238.23 L195.74,238.60 L196.67,238.96 L197.61,239.32 L198.54,239.67 L199.47,240.02 L200.41,240.36 L201.34,240.69 L202.28,241.02 L203.21,241.35 L204.15,241.67 L205.08,241.99 L206.02,242.31 L206.95,242.63 L207.88,242.94 L208.82,243.25 L209.75,243.56 L210.69,243.85 L211.62,244.15 L212.56,244.43 L213.49,244.71 L214.43,244.98 L215.36,245.23 L216.29,245.48 L217.23,245.72 L218.16,245.95 L219.10,246.18 L220.03,246.40 L220.97,246.62 L221.90,246.84 L222.83,247.06 L223.77,247.27 L224.70,247.47 L225.64,247.68 L226.57,247.88 L227.51,248.08 L228.44,248.27 L229.38,248.47 L230.31,248.65 L231.24,248.84 L232.18,249.02 L233.11,249.21 L234.05,249.38 L234.98,249.56 L235.92,249.73 L236.85,249.90 L237.78,250.07 L238.72,250.24 L239.65,250.40 L240.59,250.56 L241.52,250.72 L242.46,250.88 L243.39,251.03 L244.32,251.19 L245.26,251.34 L246.19,251.49 L247.13,251.63 L248.06,251.77 L249.00,251.91 L249.93,252.04 L250.87,252.17 L251.80,252.29 L252.73,252.42 L253.67,252.54 L254.60,252.66 L255.54,252.79 L256.47,252.91 L257.41,253.03 L258.34,253.16 L259.27,253.28 L260.21,253.41 L261.14,253.55 L262.08,253.68 L263.01,253.82 L263.95,253.96 L264.88,254.10 L265.82,254.24 L266.75,254.38 L267.68,254.53 L268.62,254.67 L269.55,254.81 L270.49,254.95 L271.42,255.08 L272.36,255.22 L273.29,255.35 L274.23,255.48 L275.16,255.60 L276.09,255.72 L277.03,255.84 L277.96,255.95 L278.90,256.05 L279.83,256.16 L280.77,256.26 L281.70,256.36 L282.63,256.46 L283.57,256.56 L284.50,256.66 L285.44,256.76 L286.37,256.85 L287.31,256.95 L288.24,257.04 L289.18,257.13 L290.11,257.22 L291.04,257.31 L291.98,257.40 L292.91,257.49 L293.85,257.57 L294.78,257.65 L295.72,257.73 L296.65,257.81 L297.58,257.89 L298.52,257.97 L299.45,258.04 L300.39,258.11 L301.32,258.18 L302.26,258.25 L303.19,258.31 L304.12,258.37 L305.06,258.43 L305.99,258.49 L306.93,258.55 L307.86,258.60 L308.80,258.65 L309.73,258.71 L310.67,258.76 L311.60,258.81 L312.53,258.86 L313.47,258.91 L314.40,258.96 L315.34,259.01 L316.27,259.06 L317.21,259.11 L318.14,259.16 L319.07,259.21 L320.01,259.25 L320.94,259.30 L321.88,259.34 L322.81,259.38 L323.75,259.43 L324.68,259.47 L325.62,259.51 L326.55,259.55 L327.48,259.59 L328.42,259.62 L329.35,259.66 L330.29,259.69 L331.22,259.73 L332.16,259.76 L333.09,259.79 L334.02,259.82 L334.96,259.84 L335.89,259.87 L336.83,259.89 L337.76,259.92 L338.70,259.94 L339.63,259.96 L340.57,259.97 L341.50,259.99" stroke="#008000"/>
<path d="M42.50,261.50 L42.69,261.50 L42.87,261.50 L43.06,261.50 L43.25,261.50 L43.43,261.50 L43.62,261.50 L43.81,261.50 L43.99,261.50 L44.18,261.50 L44.37,261.50 L44.56,261.50 L44.74,261.50 L44.93,261.50 L45.12,261.50 L45.30,261.50 L45.49,261.50 L45.68,261.10 L45.86,260.31 L46.05,259.51 L46.24,258.72 L46.42,257.92 L46.61,255.87 L46.80,252.55 L46.98,249.24 L47.17,245.93 L47.36,242.61 L47.55,239.30 L47.73,235.78 L47.92,232.07 L48.11,228.36 L48.29,224.65 L48.48,220.94 L48.67,217.23 L48.85,213.52 L49.04,209.80 L49.23,206.09 L49.41,202.38 L49.60,198.67 L49.79,194.96 L49.97,191.25 L50.16,187.54 L50.35,183.82 L50.54,180.63 L50.72,177.95 L50.91,175.27 L51.10,172.59 L51.28,169.91 L51.47,167.23 L51.66,164.56 L51.84,161.88 L52.03,159.20 L52.22,156.52 L52.40,153.84 L52.59,151.16 L52.78,148.48 L52.96,145.80 L53.15,143.12 L53.34,140.45 L53.53,137.77 L53.71,135.09 L53.90,132.41 L54.09,129.56 L54.27,126.54 L54.46,123.52 L54.65,120.51 L54.83,117.49 L55.02,114.47 L55.21,111.45 L55.39,108.43 L55.58,105.41 L55.77,102.40 L55.95,99.38 L56.14,96.36 L56.33,93.34 L56.52,90.32 L56.70,87.31 L56.89,84.29 L57.08,81.27 L57.26,78.25 L57.45,75.23 L57.64,72.22 L57.82,68.42 L58.01,64.12 L58.20,59.62 L58.38,55.19 L58.57,51.11 L58.76,47.68 L58.94,45.18 L59.13,43.23 L59.32,41.38 L59.51,39.74 L59.69,38.42 L59.88,37.54 L60.07,37.22 L60.25,37.24 L60.44,37.30 L60.63,37.39 L60.81,37.51 L61.00,37.65 L61.19,37.82 L61.37,38.02 L61.56,38.42 L61.75,39.17 L61.93,40.20 L62.12,41.42 L62.31,42.77 L62.50,44.15 L62.68,45.51 L62.87,46.77 L63.06,47.96 L63.24,49.20 L63.43,50.48 L63.62,51.77 L63.80,53.08 L63.99,54.39 L64.18,55.70 L64.36,56.99 L64.55,58.26 L64.74,59.49 L64.92,60.70 L65.11,61.91 L65.30,63.13 L65.49,64.34 L65.67,65.55 L65.86,66.76 L66.05,67.96 L66.23,69.16 L66.42,70.36 L66.61,71.55 L66.79,72.74 L66.98,73.92 L67.17,75.09 L67.35,76.26 L67.54,77.41 L67.73,78.56 L67.91,79.70 L68.10,80.83 L68.29,81.95 L68.48,83.05 L68.66,84.15 L68.85,85.23 L69.04,86.30 L69.22,87.35 L69.41,88.39 L69.60,89.42 L69.78,90.42 L69.97,91.42 L70.16,92.39 L70.34,93.35 L70.53,94.31 L70.72,95.25 L70.90,96.19 L71.09,97.12 L71.28,98.04 L71.47,98.95 L71.65,99.85 L71.84,100.74 L72.03,101.63 L72.21,102.51 L72.40,103.37 L72.59,104.23 L72.77,105.09 L72.96,105.93 L73.15,106.77 L73.33,107.59 L73.52,108.41 L73.71,109.22 L73.89,110.03 L74.08,110.82 L74.27,111.61 L74.46,112.38 L74.64,113.16 L74.83,113.92 L75.02,114.67 L75.20,115.42 L75.39,116.16 L75.58,116.89 L75.76,117.61 L75.95,118.34 L76.14,119.07 L76.32,119.80 L76.51,120.52 L76.70,121.25 L76.88,121.97 L77.07,122.68 L77.26,123.40 L77.45,124.10 L77.63,124.80 L77.82,125.49 L78.01,126.17 L78.19,126.84 L78.38,127.50 L78.57,128.14 L78.75,128.78 L78.94,129.39 L79.13,130.00 L79.31,130.58 L79.50,131.15 L79.69,131.71 L79.87,132.24 L80.06,132.75 L80.25,133.24 L80.44,133.71 L80.62,134.16 L80.81,134.58 L81.00,135.00 L81.18,135.41 L81.37,135.81 L81.56,136.20 L81.74,136.58 L81.93,136.95 L82.12,137.32 L82.30,137.68 L82.49,138.03 L82.68,138.38 L82.86,138.72 L83.05,139.05 L83.24,139.38 L83.43,139.70 L83.61,140.01 L83.80,140.32 L83.99,140.63 L84.17,140.93 L84.36,141.23 L84.55,141.52 L84.73,141.81 L84.92,142.10 L85.11,142.38 L85.29,142.66 L85.48,142.94 L85.67,143.21 L85.85,143.48 L86.04,143.76 L86.23,144.02 L86.42,144.29 L86.60,144.56 L86.79,144.83 L86.98,145.09 L87.16,145.36 L87.35,145.63 L87.54,145.89 L87.72,146.16 L87.91,146.43 L88.10,146.70 L88.28,146.97 L88.47,147.25 L88.66,147.52 L88.84,147.80 L89.03,148.08 L89.22,148.37 L89.41,148.65 L89.59,148.94 L89.78,149.23 L89.97,149.51 L90.15,149.80 L90.34,150.09 L90.53,150.37 L90.71,150.66 L90.90,150.94 L91.09,151.23 L91.27,151.51 L91.46,151.80 L91.65,152.08 L91.83,152.36 L92.02,152.65 L92.21,152.93 L92.40,153.21 L92.58,153.49 L92.77,153.77 L92.96,154.05 L93.14,154.33 L93.33,154.61 L93.52,154.89 L93.70,155.17 L93.89,155.45 L94.08,155.72 L94.26,156.00 L94.45,156.28 L94.64,156.55 L94.82,156.82 L95.01,157.10 L95.20,157.37 L95.39,157.64 L95.57,157.91 L95.76,158.18 L95.95,158.45 L96.13,158.72 L96.32,158.99 L96.51,159.25 L96.69,159.52 L96.88,159.78 L97.07,160.05 L97.25,160.31 L97.44,160.57 L97.63,160.84 L97.81,161.10 L98.00,161.35 L98.19,161.61 L98.38,161.87 L98.56,162.13 L98.75,162.38 L98.94,162.63 L99.12,162.89 L99.31,163.14 L99.50,163.39 L99.68,163.64 L99.87,163.89 L100.06,164.13 L100.24,164.38 L100.43,164.62 L100.62,164.87 L100.80,165.11 L100.99,165.35 L101.18,165.59 L101.37,165.83 L101.55,166.06 L101.74,166.30 L101.93,166.53 L102.11,166.76 L102.30,166.99 L102.49,167.22 L102.67,167.45 L102.86,167.68 L103.05,167.90 L103.23,168.13 L103.42,168.35 L103.61,168.57 L103.79,168.79 L103.98,169.01 L104.17,169.23 L104.36,169.45 L104.54,169.66 L104.73,169.88 L104.92,170.09 L105.10,170.30 L105.29,170.52 L105.48,170.73 L105.66,170.94 L105.85,171.15 L106.04,171.36 L106.22,171.57 L106.41,171.77 L106.60,171.98 L106.78,172.19 L106.97,172.39 L107.16,172.60 L107.35,172.80 L107.53,173.01 L107.72,173.21 L107.91,173.42 L108.09,173.62 L108.28,173.82 L108.47,174.02 L108.65,174.23 L108.84,174.43 L109.03,174.63 L109.21,174.83 L109.40,175.04 L109.59,175.24 L109.77,175.44 L109.96,175.64 L110.15,175.84 L110.34,176.05 L110.52,176.25 L110.71,176.45 L110.90,176.65 L111.08,176.86 L111.27,177.06 L111.46,177.26 L111.64,177.47 L111.83,177.67 L112.02,177.88 L112.20,178.08 L112.39,178.29 L112.58,178.49 L112.76,178.70 L112.95,178.91 L113.14,179.11 L113.33,179.32 L113.51,179.53 L113.70,179.74 L113.89,179.95 L114.07,180.17 L114.26,180.38 L114.45,180.59 L114.63,180.80 L114.82,181.02 L115.01,181.23 L115.19,181.45 L115.38,181.66 L115.57,181.88 L115.75,182.09 L115.94,182.31 L116.13,182.53 L116.32,182.74 L116.50,182.96 L116.69,183.18 L116.88,183.40 L117.06,183.61 L117.25,183.83 L118.18,184.92 L119.12,186.02 L120.05,187.12 L120.99,188.21 L121.92,189.31 L122.86,190.40 L123.79,191.48 L124.72,192.56 L125.66,193.63 L126.59,194.69 L127.53,195.73 L128.46,196.76 L129.40,197.79 L130.33,198.82 L131.27,199.86 L132.20,200.89 L133.13,201.91 L134.07,202.93 L135.00,203.94 L135.94,204.94 L136.87,205.93 L137.81,206.90 L138.74,207.84 L139.68,208.77 L140.61,209.67 L141.54,210.55 L142.48,211.40 L143.41,212.22 L144.35,213.03 L145.28,213.83 L146.22,214.62 L147.15,215.39 L148.08,216.15 L149.02,216.89 L149.95,217.62 L150.89,218.33 L151.82,219.03 L152.76,219.71 L153.69,220.37 L154.62,221.01 L155.56,221.64 L156.49,222.25 L157.43,222.84 L158.36,223.42 L159.30,223.98 L160.23,224.53 L161.17,225.07 L162.10,225.59 L163.03,226.11 L163.97,226.61 L164.90,227.10 L165.84,227.59 L166.77,228.07 L167.71,228.54 L168.64,229.00 L169.57,229.45 L170.51,229.91 L171.44,230.35 L172.38,230.77 L173.31,231.17 L174.25,231.56 L175.18,231.95 L176.12,232.33 L177.05,232.72 L177.98,233.12 L178.92,233.53 L179.85,233.97 L180.79,234.44 L181.72,234.95 L182.66,235.49 L183.59,236.04 L184.53,236.60 L185.46,237.16 L186.39,237.69 L187.33,238.20 L188.26,238.66 L189.20,239.08 L190.13,239.49 L191.07,239.88 L192.00,240.26 L192.93,240.63 L193.87,240.98 L194.80,241.33 L195.74,241.67 L196.67,242.00 L197.61,242.32 L198.54,242.64 L199.47,242.94 L200.41,243.25 L201.34,243.54 L202.28,243.83 L203.21,244.12 L204.15,244.40 L205.08,244.67 L206.02,244.95 L206.95,245.21 L207.88,245.47 L208.82,245.73 L209.75,245.98 L210.69,246.22 L211.62,246.46 L212.56,246.70 L213.49,246.93 L214.43,247.15 L215.36,247.37 L216.29,247.58 L217.23,247.78 L218.16,247.98 L219.10,248.18 L220.03,248.38 L220.97,248.57 L221.90,248.76 L222.83,248.95 L223.77,249.14 L224.70,249.33 L225.64,249.51 L226.57,249.69 L227.51,249.87 L228.44,250.04 L229.38,250.22 L230.31,250.39 L231.24,250.55 L232.18,250.72 L233.11,250.88 L234.05,251.04 L234.98,251.20 L235.92,251.36 L236.85,251.51 L237.78,251.66 L238.72,251.81 L239.65,251.96 L240.59,252.10 L241.52,252.24 L242.46,252.38 L243.39,252.52 L244.32,252.65 L245.26,252.78 L246.19,252.91 L247.13,253.03 L248.06,253.14 L249.00,253.25 L249.93,253.36 L250.87,253.46 L251.80,253.56 L252.73,253.66 L253.67,253.76 L254.60,253.86 L255.54,253.96 L256.47,254.07 L257.41,254.17 L258.34,254.29 L259.27,254.40 L260.21,254.53 L261.14,254.66 L262.08,254.80 L263.01,254.95 L263.95,255.11 L264.88,255.27 L265.82,255.44 L266.75,255.61 L267.68,255.78 L268.62,255.95 L269.55,256.13 L270.49,256.30 L271.42,256.46 L272.36,256.63 L273.29,256.79 L274.23,256.94 L275.16,257.08 L276.09,257.22 L277.03,257.35 L277.96,257.46 L278.90,257.56 L279.83,257.66 L280.77,257.76 L281.70,257.86 L282.63,257.96 L283.57,258.05 L284.50,258.14 L285.44,258.24 L286.37,258.33 L287.31,258.41 L288.24,258.50 L289.18,258.58 L290.11,258.67 L291.04,258.75 L291.98,258.83 L292.91,258.90 L293.85,258.98 L294.78,259.05 L295.72,259.12 L296.65,259.18 L297.58,259.25 L298.52,259.31 L299.45,259.37 L300.39,259.43 L301.32,259.48 L302.26,259.53 L303.19,259.58 L304.12,259.63 L305.06,259.67 L305.99,259.71 L306.93,259.74 L307.86,259.78 L308.80,259.81 L309.73,259.84 L310.67,259.88 L311.60,259.91 L312.53,259.94 L313.47,259.97 L314.40,260.01 L315.34,260.04 L316.27,260.07 L317.21,260.10 L318.14,260.13 L319.07,260.16 L320.01,260.18 L320.94,260.21 L321.88,260.24 L322.81,260.26 L323.75,260.29 L324.68,260.31 L325.62,260.34 L326.55,260.36 L327.48,260.38 L328.42,260.40 L329.35,260.42 L330.29,260.44 L331.22,260.45 L332.16,260.47 L333.09,260.48 L334.02,260.50 L334.96,260.51 L335.89,260.52 L336.83,260.53 L337.76,260.53 L338.70,260.54 L339.63,260.54 L340.57,260.54 L341.50,260.55" stroke="#bf00bf"/>
<path d="M64.92,48.94V41.07M66.33,54.61V47.38M67.73,60.72V51.72M69.13,68.61V58.57M70.53,76.16V67.33M71.93,88.02V78.93M73.33,94.20V86.99M74.74,104.81V95.71M76.14,109.99V99.08M77.54,116.00V105.46M78.94,125.19V115.13M80.34,124.70V117.10M81.74,132.36V121.64M83.15,139.37V128.81M84.55,141.64V133.82M85.95,148.28V138.60M87.35,148.76V141.53M88.75,150.97V143.35M90.15,152.52V144.10M91.55,155.84V148.05M92.96,156.53V146.35M94.36,159.22V148.81M95.76,156.84V148.31M97.16,158.60V150.17M98.56,161.86V154.26M99.96,162.42V154.93M101.37,169.46V159.46M102.77,167.23V157.69M104.17,169.16V161.78M105.57,173.14V164.07M106.97,174.91V166.15M108.37,176.39V165.86M109.78,175.42V165.40M111.18,177.15V167.60M112.58,178.56V169.21M113.98,181.03V170.09M115.38,183.54V172.45M116.78,182.23V173.73M118.18,182.56V174.44M119.59,186.22V175.90M120.99,187.37V179.96M122.39,187.24V178.64M123.79,191.00V183.56M125.19,189.80V181.37M126.59,189.78V182.34M128.00,192.74V184.43M129.40,196.08V185.78M130.80,196.80V186.04M132.20,196.14V185.83M133.60,197.01V187.62M135.00,198.94V189.33M136.40,199.45V190.85M137.81,199.06V191.24M139.21,199.60V190.70M140.61,202.92V192.85M142.01,201.59V194.18M210.31,234.22V230.72M218.35,237.00V233.50M226.48,239.39V235.89M237.60,242.97V239.47M251.43,247.74V244.24M267.68,251.56V248.06M290.30,259.11V255.61" stroke="#777" stroke-width="0.45"/>
<path d="M42.50,261.50 L42.97,261.50 L43.43,261.50 L43.90,258.06 L44.37,249.74 L44.84,239.55 L45.30,230.48 L45.77,223.09 L46.24,215.87 L46.70,208.75 L47.17,201.65 L47.64,194.51 L48.11,187.25 L48.57,179.75 L49.04,171.67 L49.51,163.82 L49.98,157.26 L50.44,151.76 L50.91,146.84 L51.38,142.08 L51.84,137.09 L52.31,131.47 L52.78,125.05 L53.25,118.03 L53.71,110.61 L54.18,103.01 L54.65,95.44 L55.11,88.11 L55.58,81.23 L56.05,75.01 L56.52,69.58 L56.98,64.57 L57.45,59.88 L57.92,55.48 L58.38,51.37 L58.85,47.51 L59.32,43.78 L59.79,40.23 L60.25,37.31 L60.72,35.21 L61.19,34.04 L61.65,34.41 L62.12,35.23 L62.59,36.85 L63.06,37.47 L63.52,40.65 L63.99,41.58 L64.46,42.60 L64.92,45.01 L65.39,46.01 L65.86,47.75 L66.33,50.99 L66.79,50.73 L67.26,53.09 L67.73,56.22 L68.20,58.16 L68.66,59.87 L69.13,63.59 L69.60,66.52 L70.06,71.15 L70.53,71.74 L71.00,75.43 L71.47,78.29 L71.93,83.47 L72.40,82.28 L72.87,87.05 L73.33,90.60 L73.80,90.35 L74.27,95.77 L74.74,100.26 L75.20,101.54 L75.67,106.43 L76.14,104.54 L76.60,108.60 L77.07,111.08 L77.54,110.73 L78.01,116.07 L78.47,115.09 L78.94,120.16 L79.41,120.11 L79.88,122.54 L80.34,120.90 L80.81,122.29 L81.28,126.73 L81.74,127.00 L82.21,130.03 L82.68,130.77 L83.15,134.09 L83.61,136.95 L84.08,138.79 L84.55,137.73 L85.01,137.03 L85.48,141.09 L85.95,143.44 L86.42,141.42 L86.88,144.33 L87.35,145.14 L87.82,145.50 L88.28,146.47 L88.75,147.16 L89.22,149.06 L89.69,147.09 L90.15,148.31 L90.62,147.12 L91.09,149.55 L91.55,151.95 L92.02,150.10 L92.49,148.28 L92.96,151.44 L93.42,152.63 L93.89,153.60 L94.36,154.02 L94.83,153.67 L95.29,155.40 L95.76,152.58 L96.23,155.42 L96.69,155.50 L97.16,154.39 L97.63,154.88 L98.10,157.63 L98.56,158.06 L99.50,158.06 L99.50,158.68 L100.43,158.68 L100.43,161.11 L101.37,161.11 L101.37,164.46 L102.30,164.46 L102.30,162.46 L103.23,162.46 L103.23,163.47 L104.17,163.47 L104.17,165.47 L105.10,165.47 L105.10,168.61 L106.04,168.61 L106.04,168.87 L106.97,168.87 L106.97,170.53 L107.91,170.53 L107.91,171.13 L108.84,171.13 L108.84,169.88 L109.78,169.88 L109.78,170.41 L110.71,170.41 L110.71,172.37 L111.64,172.37 L111.64,173.31 L112.58,173.31 L112.58,173.88 L113.51,173.88 L113.51,175.56 L114.45,175.56 L114.45,176.40 L115.38,176.40 L115.38,177.99 L116.32,177.99 L116.32,177.98 L117.25,177.98 L117.25,175.72 L118.18,175.72 L118.18,178.50 L119.12,178.50 L119.12,181.06 L120.05,181.06 L120.05,182.18 L120.99,182.18 L120.99,183.66 L121.92,183.66 L121.92,182.94 L122.86,182.94 L122.86,183.87 L123.79,183.87 L123.79,187.28 L124.72,187.28 L124.72,185.59 L125.66,185.59 L125.66,187.90 L126.59,187.90 L126.59,186.06 L127.53,186.06 L127.53,188.59 L128.46,188.59 L128.46,187.24 L129.40,187.24 L129.40,190.93 L130.33,190.93 L130.33,191.42 L131.27,191.42 L131.27,191.32 L132.20,191.32 L132.20,190.99 L133.13,190.99 L133.13,192.32 L134.07,192.32 L134.07,195.40 L135.00,195.40 L135.00,194.13 L135.94,194.13 L135.94,195.15 L139.68,195.15 L139.68,197.89 L143.41,197.89 L143.41,200.56 L147.15,200.56 L147.15,201.82 L150.89,201.82 L150.89,205.45 L154.62,205.45 L154.62,207.80 L158.36,207.80 L158.36,208.62 L162.10,208.62 L162.10,210.30 L165.84,210.30 L165.84,212.79 L170.88,212.79 L170.88,214.96 L175.93,214.96 L175.93,217.33 L180.97,217.33 L180.97,219.42 L186.02,219.42 L186.02,221.38 L191.07,221.38 L191.07,223.91 L196.11,223.91 L196.11,226.45 L201.16,226.45 L201.16,228.95 L206.20,228.95 L206.20,232.47 L214.43,232.47 L214.43,235.25 L222.27,235.25 L222.27,237.64 L230.68,237.64 L230.68,241.22 L244.51,241.22 L244.51,245.99 L258.34,245.99 L258.34,249.81 L277.03,249.81 L277.03,257.36 L303.56,257.36 L303.56,269.45 L341.50,269.45" stroke="#000000" stroke-width="1.75"/>
<path d="M60.53,35.63 L61.19,27.68 L61.75,35.63" stroke="#000" stroke-width="1.0"/>
<path d="M65.49,31.65 V38.81" stroke="#777" stroke-width="0.6"/>
</g>
<rect x="202.6" y="25.2" width="115.29999999999998" height="96.0" fill="#fff"/>
<g clip-path="url(#ci)" fill="none" stroke-width="1.9" stroke-linejoin="round">
<path d="M202.50,119.08 L202.79,119.08 L203.08,119.08 L203.37,119.08 L203.66,119.08 L203.94,119.08 L204.23,119.08 L204.52,119.08 L204.81,119.08 L205.10,119.08 L205.39,119.08 L205.68,119.08 L205.96,119.08 L206.25,119.08 L206.54,119.08 L206.83,119.08 L207.12,119.08 L207.41,119.08 L207.70,119.08 L207.99,119.08 L208.27,119.08 L208.56,119.08 L208.85,119.08 L209.14,119.08 L209.43,119.08 L209.72,119.08 L210.01,119.08 L210.30,119.08 L210.58,119.08 L210.87,119.03 L211.16,118.99 L211.45,118.95 L211.74,118.91 L212.03,118.86 L212.32,118.82 L212.61,118.78 L212.89,118.74 L213.18,118.70 L213.47,118.65 L213.76,118.61 L214.05,118.57 L214.34,118.53 L214.63,118.48 L214.92,118.44 L215.20,118.40 L215.49,118.36 L215.78,118.32 L216.07,118.27 L216.36,118.23 L216.65,118.19 L216.94,118.15 L217.23,118.10 L217.51,118.06 L217.80,118.02 L218.09,117.98 L218.38,117.94 L218.67,117.89 L218.96,117.85 L219.25,117.81 L219.54,117.42 L219.82,117.02 L220.11,116.63 L220.40,116.24 L220.69,115.84 L220.98,115.45 L221.27,115.06 L221.56,114.67 L221.85,114.27 L222.13,113.88 L222.42,113.49 L222.71,113.09 L223.00,112.70 L223.29,110.42 L223.58,107.34 L223.87,104.25 L224.16,101.16 L224.44,98.08 L224.73,94.99 L225.02,91.91 L225.31,88.82 L225.60,85.73 L225.89,82.65 L226.18,79.56 L226.47,76.47 L226.75,73.39 L227.04,70.30 L227.33,67.21 L227.62,64.13 L227.91,61.04 L228.20,57.96 L228.49,54.87 L228.78,51.78 L229.06,49.57 L229.35,47.35 L229.64,45.13 L229.93,42.92 L230.22,40.70 L230.51,38.48 L230.80,36.27 L231.09,34.05 L231.37,33.30 L231.66,32.66 L231.95,32.12 L232.24,31.69 L232.53,31.34 L232.82,31.07 L233.11,30.82 L233.40,30.60 L233.68,30.42 L233.97,30.29 L234.26,30.25 L234.55,30.33 L234.84,30.54 L235.13,30.85 L235.42,31.23 L235.71,31.66 L235.99,32.09 L236.28,32.49 L236.57,32.92 L236.86,33.39 L237.15,33.90 L237.44,34.43 L237.73,34.96 L238.02,35.47 L238.30,35.95 L238.59,36.41 L238.88,36.86 L239.17,37.32 L239.46,37.76 L239.75,38.19 L240.04,38.61 L240.33,39.01 L240.61,39.39 L240.90,39.75 L241.19,40.09 L241.48,40.42 L241.77,40.74 L242.06,41.06 L242.35,41.36 L242.64,41.66 L242.92,41.96 L243.21,42.25 L243.50,42.53 L243.79,42.81 L244.08,43.08 L244.37,43.34 L244.66,43.60 L244.95,43.86 L245.23,44.11 L245.52,44.36 L245.81,44.60 L246.10,44.84 L246.39,45.08 L246.68,45.31 L246.97,45.54 L247.26,45.77 L247.54,45.99 L247.83,46.21 L248.12,46.43 L248.41,46.65 L248.70,46.86 L248.99,47.07 L249.28,47.27 L249.57,47.48 L249.85,47.68 L250.14,47.88 L250.43,48.07 L250.72,48.27 L251.01,48.46 L251.30,48.65 L251.59,48.83 L251.88,49.02 L252.16,49.20 L252.45,49.38 L252.74,49.56 L253.03,49.73 L253.32,49.91 L253.61,50.08 L253.90,50.25 L254.19,50.42 L254.47,50.59 L254.76,50.75 L255.05,50.92 L255.34,51.08 L255.63,51.25 L255.92,51.41 L256.21,51.57 L256.50,51.73 L256.78,51.89 L257.07,52.04 L257.36,52.20 L257.65,52.35 L257.94,52.50 L258.23,52.65 L258.52,52.80 L258.81,52.94 L259.09,53.09 L259.38,53.23 L259.67,53.37 L259.96,53.50 L260.25,53.64 L260.54,53.77 L260.83,53.90 L261.12,54.03 L261.40,54.16 L261.69,54.28 L261.98,54.40 L262.27,54.52 L262.56,54.64 L262.85,54.76 L263.14,54.88 L263.43,54.99 L263.71,55.10 L264.00,55.21 L264.29,55.32 L264.58,55.43 L264.87,55.54 L265.16,55.65 L265.45,55.75 L265.74,55.86 L266.02,55.96 L266.31,56.07 L266.60,56.17 L266.89,56.27 L267.18,56.37 L267.47,56.47 L267.76,56.57 L268.05,56.67 L268.33,56.76 L268.62,56.86 L268.91,56.96 L269.20,57.05 L269.49,57.15 L269.78,57.24 L270.07,57.34 L270.36,57.43 L270.64,57.53 L270.93,57.62 L271.22,57.72 L271.51,57.81 L271.80,57.90 L272.09,58.00 L272.38,58.09 L272.67,58.18 L272.95,58.28 L273.24,58.37 L273.53,58.46 L273.82,58.56 L274.11,58.65 L274.40,58.75 L274.69,58.84 L274.98,58.94 L275.26,59.03 L275.55,59.13 L275.84,59.22 L276.13,59.32 L276.42,59.41 L276.71,59.51 L277.00,59.60 L277.29,59.70 L277.57,59.79 L277.86,59.89 L278.15,59.98 L278.44,60.08 L278.73,60.17 L279.02,60.27 L279.31,60.36 L279.60,60.46 L279.88,60.55 L280.17,60.64 L280.46,60.74 L280.75,60.83 L281.04,60.93 L281.33,61.02 L281.62,61.11 L281.91,61.21 L282.19,61.30 L282.48,61.39 L282.77,61.48 L283.06,61.58 L283.35,61.67 L283.64,61.76 L283.93,61.85 L284.22,61.94 L284.50,62.03 L284.79,62.12 L285.08,62.21 L285.37,62.30 L285.66,62.39 L285.95,62.48 L286.24,62.57 L286.53,62.66 L286.81,62.75 L287.10,62.84 L287.39,62.93 L287.68,63.02 L287.97,63.10 L288.26,63.19 L288.55,63.28 L288.84,63.36 L289.12,63.45 L289.41,63.53 L289.70,63.62 L289.99,63.70 L290.28,63.79 L290.57,63.87 L290.86,63.96 L291.15,64.04 L291.43,64.12 L291.72,64.20 L292.01,64.29 L292.30,64.37 L292.59,64.45 L292.88,64.53 L293.17,64.61 L293.46,64.69 L293.74,64.77 L294.03,64.85 L294.32,64.92 L294.61,65.00 L294.90,65.08 L295.19,65.16 L295.48,65.23 L295.77,65.31 L296.05,65.39 L296.34,65.46 L296.63,65.54 L296.92,65.61 L297.21,65.69 L297.50,65.76 L297.79,65.84 L298.08,65.91 L298.36,65.98 L298.65,66.06 L298.94,66.13 L299.23,66.20 L299.52,66.28 L299.81,66.35 L300.10,66.42 L300.39,66.49 L300.67,66.56 L300.96,66.64 L301.25,66.71 L301.54,66.78 L301.83,66.85 L302.12,66.92 L302.41,66.99 L302.70,67.06 L302.98,67.13 L303.27,67.20 L303.56,67.27 L303.85,67.34 L304.14,67.41 L304.43,67.48 L304.72,67.55 L305.01,67.61 L305.29,67.68 L305.58,67.75 L305.87,67.82 L306.16,67.89 L306.45,67.96 L306.74,68.02 L307.03,68.09 L307.32,68.16 L307.60,68.23 L307.89,68.29 L308.18,68.36 L308.47,68.43 L308.76,68.49 L309.05,68.56 L309.34,68.63 L309.63,68.69 L309.91,68.76 L310.20,68.83 L310.49,68.89 L310.78,68.96 L311.07,69.02 L311.36,69.09 L311.65,69.16 L311.94,69.22 L312.22,69.29 L312.51,69.35 L312.80,69.42 L313.09,69.48 L313.38,69.55 L313.67,69.62 L313.96,69.68 L314.25,69.75 L314.53,69.81 L314.82,69.88 L315.11,69.94 L315.40,70.01 L315.69,70.07 L315.98,70.14 L316.27,70.20 L316.56,70.27 L316.84,70.34 L317.13,70.40 L317.42,70.47 L317.71,70.53 L318.00,70.60" stroke="#0000ff"/>
<path d="M202.50,120.50 L202.79,120.50 L203.08,120.50 L203.37,120.50 L203.66,120.50 L203.94,120.50 L204.23,120.50 L204.52,120.50 L204.81,120.50 L205.10,120.50 L205.39,120.50 L205.68,120.50 L205.96,120.50 L206.25,120.50 L206.54,120.50 L206.83,120.50 L207.12,120.50 L207.41,120.50 L207.70,120.50 L207.99,120.50 L208.27,120.50 L208.56,120.50 L208.85,120.50 L209.14,120.50 L209.43,120.50 L209.72,120.50 L210.01,120.18 L210.30,119.87 L210.58,119.55 L210.87,119.23 L211.16,118.92 L211.45,117.46 L211.74,116.00 L212.03,114.55 L212.32,113.09 L212.61,111.63 L212.89,110.07 L213.18,108.51 L213.47,106.95 L213.76,105.39 L214.05,103.83 L214.34,102.26 L214.63,100.70 L214.92,99.14 L215.20,97.58 L215.49,96.02 L215.78,94.46 L216.07,92.89 L216.36,91.33 L216.65,89.77 L216.94,88.34 L217.23,87.12 L217.51,85.90 L217.80,84.67 L218.09,83.45 L218.38,82.23 L218.67,81.00 L218.96,79.78 L219.25,78.56 L219.54,77.33 L219.82,76.11 L220.11,74.89 L220.40,73.66 L220.69,72.44 L220.98,71.22 L221.27,69.99 L221.56,68.38 L221.85,66.76 L222.13,65.15 L222.42,63.54 L222.71,61.92 L223.00,60.31 L223.29,58.70 L223.58,57.08 L223.87,55.47 L224.16,53.86 L224.44,52.52 L224.73,51.47 L225.02,50.41 L225.31,49.36 L225.60,48.30 L225.89,47.24 L226.18,46.19 L226.47,45.13 L226.75,44.08 L227.04,43.02 L227.33,41.97 L227.62,41.13 L227.91,40.31 L228.20,39.50 L228.49,38.73 L228.78,37.98 L229.06,37.27 L229.35,36.62 L229.64,36.01 L229.93,35.47 L230.22,35.00 L230.51,34.58 L230.80,34.18 L231.09,33.82 L231.37,33.47 L231.66,33.15 L231.95,32.85 L232.24,32.57 L232.53,32.31 L232.82,32.06 L233.11,31.83 L233.40,31.60 L233.68,31.35 L233.97,31.13 L234.26,30.97 L234.55,30.89 L234.84,31.19 L235.13,32.20 L235.42,33.26 L235.71,33.96 L235.99,34.60 L236.28,35.20 L236.57,35.76 L236.86,36.29 L237.15,36.81 L237.44,37.32 L237.73,37.82 L238.02,38.33 L238.30,38.84 L238.59,39.35 L238.88,39.86 L239.17,40.36 L239.46,40.86 L239.75,41.35 L240.04,41.84 L240.33,42.33 L240.61,42.81 L240.90,43.29 L241.19,43.76 L241.48,44.23 L241.77,44.70 L242.06,45.17 L242.35,45.63 L242.64,46.08 L242.92,46.54 L243.21,46.99 L243.50,47.44 L243.79,47.88 L244.08,48.33 L244.37,48.77 L244.66,49.20 L244.95,49.64 L245.23,50.07 L245.52,50.50 L245.81,50.93 L246.10,51.36 L246.39,51.79 L246.68,52.22 L246.97,52.65 L247.26,53.07 L247.54,53.50 L247.83,53.92 L248.12,54.33 L248.41,54.75 L248.70,55.16 L248.99,55.57 L249.28,55.98 L249.57,56.38 L249.85,56.77 L250.14,57.16 L250.43,57.55 L250.72,57.93 L251.01,58.30 L251.30,58.67 L251.59,59.04 L251.88,59.39 L252.16,59.74 L252.45,60.08 L252.74,60.42 L253.03,60.75 L253.32,61.07 L253.61,61.39 L253.90,61.71 L254.19,62.03 L254.47,62.34 L254.76,62.64 L255.05,62.95 L255.34,63.24 L255.63,63.54 L255.92,63.83 L256.21,64.12 L256.50,64.40 L256.78,64.68 L257.07,64.95 L257.36,65.22 L257.65,65.48 L257.94,65.75 L258.23,66.00 L258.52,66.25 L258.81,66.50 L259.09,66.74 L259.38,66.98 L259.67,67.22 L259.96,67.45 L260.25,67.67 L260.54,67.90 L260.83,68.12 L261.12,68.33 L261.40,68.55 L261.69,68.76 L261.98,68.96 L262.27,69.17 L262.56,69.37 L262.85,69.57 L263.14,69.76 L263.43,69.96 L263.71,70.15 L264.00,70.34 L264.29,70.53 L264.58,70.71 L264.87,70.89 L265.16,71.08 L265.45,71.26 L265.74,71.44 L266.02,71.61 L266.31,71.79 L266.60,71.97 L266.89,72.14 L267.18,72.31 L267.47,72.47 L267.76,72.64 L268.05,72.80 L268.33,72.96 L268.62,73.12 L268.91,73.28 L269.20,73.44 L269.49,73.59 L269.78,73.74 L270.07,73.90 L270.36,74.05 L270.64,74.20 L270.93,74.35 L271.22,74.50 L271.51,74.65 L271.80,74.80 L272.09,74.95 L272.38,75.10 L272.67,75.25 L272.95,75.40 L273.24,75.56 L273.53,75.71 L273.82,75.86 L274.11,76.02 L274.40,76.17 L274.69,76.33 L274.98,76.48 L275.26,76.64 L275.55,76.79 L275.84,76.95 L276.13,77.11 L276.42,77.27 L276.71,77.42 L277.00,77.58 L277.29,77.74 L277.57,77.89 L277.86,78.05 L278.15,78.20 L278.44,78.35 L278.73,78.51 L279.02,78.66 L279.31,78.81 L279.60,78.96 L279.88,79.11 L280.17,79.25 L280.46,79.40 L280.75,79.54 L281.04,79.68 L281.33,79.82 L281.62,79.96 L281.91,80.09 L282.19,80.22 L282.48,80.35 L282.77,80.48 L283.06,80.61 L283.35,80.73 L283.64,80.86 L283.93,80.98 L284.22,81.10 L284.50,81.22 L284.79,81.34 L285.08,81.46 L285.37,81.58 L285.66,81.69 L285.95,81.81 L286.24,81.92 L286.53,82.03 L286.81,82.15 L287.10,82.26 L287.39,82.37 L287.68,82.48 L287.97,82.59 L288.26,82.70 L288.55,82.81 L288.84,82.92 L289.12,83.03 L289.41,83.13 L289.70,83.24 L289.99,83.35 L290.28,83.46 L290.57,83.56 L290.86,83.67 L291.15,83.78 L291.43,83.89 L291.72,83.99 L292.01,84.10 L292.30,84.21 L292.59,84.32 L292.88,84.42 L293.17,84.53 L293.46,84.64 L293.74,84.75 L294.03,84.86 L294.32,84.96 L294.61,85.07 L294.90,85.18 L295.19,85.29 L295.48,85.39 L295.77,85.50 L296.05,85.60 L296.34,85.70 L296.63,85.81 L296.92,85.91 L297.21,86.01 L297.50,86.11 L297.79,86.21 L298.08,86.31 L298.36,86.40 L298.65,86.50 L298.94,86.60 L299.23,86.69 L299.52,86.79 L299.81,86.89 L300.10,86.98 L300.39,87.08 L300.67,87.17 L300.96,87.27 L301.25,87.36 L301.54,87.46 L301.83,87.55 L302.12,87.64 L302.41,87.74 L302.70,87.83 L302.98,87.92 L303.27,88.01 L303.56,88.11 L303.85,88.20 L304.14,88.29 L304.43,88.38 L304.72,88.47 L305.01,88.56 L305.29,88.65 L305.58,88.74 L305.87,88.82 L306.16,88.91 L306.45,89.00 L306.74,89.09 L307.03,89.17 L307.32,89.26 L307.60,89.34 L307.89,89.43 L308.18,89.51 L308.47,89.59 L308.76,89.68 L309.05,89.76 L309.34,89.84 L309.63,89.92 L309.91,90.00 L310.20,90.08 L310.49,90.16 L310.78,90.24 L311.07,90.32 L311.36,90.39 L311.65,90.47 L311.94,90.54 L312.22,90.62 L312.51,90.69 L312.80,90.77 L313.09,90.84 L313.38,90.91 L313.67,90.99 L313.96,91.06 L314.25,91.13 L314.53,91.20 L314.82,91.27 L315.11,91.34 L315.40,91.41 L315.69,91.47 L315.98,91.54 L316.27,91.61 L316.56,91.68 L316.84,91.74 L317.13,91.81 L317.42,91.88 L317.71,91.94 L318.00,92.01" stroke="#ff0000"/>
<path d="M202.50,120.50 L202.79,120.50 L203.08,120.50 L203.37,120.50 L203.66,120.50 L203.94,120.50 L204.23,120.50 L204.52,120.50 L204.81,120.50 L205.10,120.50 L205.39,120.50 L205.68,120.50 L205.96,120.50 L206.25,120.50 L206.54,120.50 L206.83,120.50 L207.12,120.50 L207.41,120.50 L207.70,120.50 L207.99,120.50 L208.27,120.50 L208.56,120.50 L208.85,120.34 L209.14,120.03 L209.43,119.71 L209.72,119.39 L210.01,119.08 L210.30,118.13 L210.58,116.54 L210.87,114.96 L211.16,113.38 L211.45,111.79 L211.74,110.15 L212.03,108.44 L212.32,106.74 L212.61,105.03 L212.89,103.33 L213.18,101.62 L213.47,99.92 L213.76,98.21 L214.05,96.51 L214.34,94.80 L214.63,93.10 L214.92,91.39 L215.20,89.69 L215.49,88.25 L215.78,87.07 L216.07,85.90 L216.36,84.73 L216.65,83.55 L216.94,82.38 L217.23,81.21 L217.51,80.03 L217.80,78.86 L218.09,77.68 L218.38,76.51 L218.67,75.34 L218.96,74.16 L219.25,72.99 L219.54,71.82 L219.82,70.64 L220.11,69.47 L220.40,68.30 L220.69,67.12 L220.98,65.95 L221.27,64.78 L221.56,63.61 L221.85,62.44 L222.13,61.26 L222.42,60.09 L222.71,58.92 L223.00,57.75 L223.29,56.57 L223.58,55.40 L223.87,54.23 L224.16,53.06 L224.44,51.88 L224.73,50.71 L225.02,49.54 L225.31,48.37 L225.60,47.20 L225.89,46.02 L226.18,44.85 L226.47,43.68 L226.75,42.51 L227.04,41.33 L227.33,40.49 L227.62,39.66 L227.91,38.84 L228.20,38.04 L228.49,37.27 L228.78,36.53 L229.06,35.83 L229.35,35.17 L229.64,34.56 L229.93,34.01 L230.22,33.52 L230.51,33.10 L230.80,32.71 L231.09,32.32 L231.37,31.95 L231.66,31.61 L231.95,31.31 L232.24,31.09 L232.53,30.94 L232.82,30.88 L233.11,30.88 L233.40,30.88 L233.68,30.88 L233.97,30.88 L234.26,30.88 L234.55,31.17 L234.84,31.83 L235.13,32.56 L235.42,33.14 L235.71,33.69 L235.99,34.25 L236.28,34.80 L236.57,35.35 L236.86,35.90 L237.15,36.44 L237.44,36.97 L237.73,37.50 L238.02,38.01 L238.30,38.52 L238.59,39.03 L238.88,39.53 L239.17,40.02 L239.46,40.52 L239.75,41.01 L240.04,41.50 L240.33,41.98 L240.61,42.46 L240.90,42.94 L241.19,43.42 L241.48,43.89 L241.77,44.36 L242.06,44.83 L242.35,45.29 L242.64,45.75 L242.92,46.21 L243.21,46.66 L243.50,47.11 L243.79,47.56 L244.08,48.00 L244.37,48.45 L244.66,48.88 L244.95,49.32 L245.23,49.75 L245.52,50.18 L245.81,50.62 L246.10,51.05 L246.39,51.47 L246.68,51.90 L246.97,52.33 L247.26,52.76 L247.54,53.18 L247.83,53.60 L248.12,54.02 L248.41,54.43 L248.70,54.85 L248.99,55.25 L249.28,55.66 L249.57,56.06 L249.85,56.46 L250.14,56.85 L250.43,57.23 L250.72,57.61 L251.01,57.99 L251.30,58.36 L251.59,58.72 L251.88,59.08 L252.16,59.42 L252.45,59.77 L252.74,60.10 L253.03,60.43 L253.32,60.76 L253.61,61.08 L253.90,61.40 L254.19,61.71 L254.47,62.02 L254.76,62.33 L255.05,62.63 L255.34,62.93 L255.63,63.23 L255.92,63.52 L256.21,63.80 L256.50,64.09 L256.78,64.37 L257.07,64.64 L257.36,64.91 L257.65,65.17 L257.94,65.43 L258.23,65.69 L258.52,65.94 L258.81,66.19 L259.09,66.43 L259.38,66.67 L259.67,66.90 L259.96,67.13 L260.25,67.35 L260.54,67.57 L260.83,67.79 L261.12,68.01 L261.40,68.22 L261.69,68.42 L261.98,68.63 L262.27,68.83 L262.56,69.03 L262.85,69.23 L263.14,69.43 L263.43,69.62 L263.71,69.81 L264.00,70.00 L264.29,70.19 L264.58,70.37 L264.87,70.56 L265.16,70.74 L265.45,70.92 L265.74,71.11 L266.02,71.29 L266.31,71.46 L266.60,71.64 L266.89,71.82 L267.18,72.00 L267.47,72.18 L267.76,72.36 L268.05,72.54 L268.33,72.72 L268.62,72.90 L268.91,73.08 L269.20,73.26 L269.49,73.44 L269.78,73.62 L270.07,73.80 L270.36,73.98 L270.64,74.15 L270.93,74.33 L271.22,74.49 L271.51,74.66 L271.80,74.82 L272.09,74.97 L272.38,75.12 L272.67,75.27 L272.95,75.41 L273.24,75.54 L273.53,75.67 L273.82,75.78 L274.11,75.90 L274.40,76.01 L274.69,76.12 L274.98,76.22 L275.26,76.33 L275.55,76.43 L275.84,76.53 L276.13,76.62 L276.42,76.71 L276.71,76.81 L277.00,76.90 L277.29,76.98 L277.57,77.07 L277.86,77.16 L278.15,77.24 L278.44,77.32 L278.73,77.41 L279.02,77.49 L279.31,77.57 L279.60,77.65 L279.88,77.73 L280.17,77.81 L280.46,77.90 L280.75,77.98 L281.04,78.06 L281.33,78.15 L281.62,78.23 L281.91,78.32 L282.19,78.40 L282.48,78.49 L282.77,78.58 L283.06,78.67 L283.35,78.76 L283.64,78.85 L283.93,78.93 L284.22,79.02 L284.50,79.11 L284.79,79.20 L285.08,79.28 L285.37,79.37 L285.66,79.46 L285.95,79.54 L286.24,79.63 L286.53,79.72 L286.81,79.80 L287.10,79.89 L287.39,79.97 L287.68,80.06 L287.97,80.15 L288.26,80.23 L288.55,80.32 L288.84,80.40 L289.12,80.49 L289.41,80.58 L289.70,80.66 L289.99,80.75 L290.28,80.84 L290.57,80.93 L290.86,81.01 L291.15,81.10 L291.43,81.19 L291.72,81.28 L292.01,81.37 L292.30,81.45 L292.59,81.54 L292.88,81.63 L293.17,81.72 L293.46,81.82 L293.74,81.91 L294.03,82.00 L294.32,82.10 L294.61,82.19 L294.90,82.29 L295.19,82.38 L295.48,82.48 L295.77,82.58 L296.05,82.68 L296.34,82.77 L296.63,82.87 L296.92,82.97 L297.21,83.07 L297.50,83.16 L297.79,83.26 L298.08,83.36 L298.36,83.45 L298.65,83.55 L298.94,83.64 L299.23,83.74 L299.52,83.83 L299.81,83.92 L300.10,84.02 L300.39,84.11 L300.67,84.19 L300.96,84.28 L301.25,84.37 L301.54,84.45 L301.83,84.54 L302.12,84.62 L302.41,84.70 L302.70,84.78 L302.98,84.85 L303.27,84.93 L303.56,85.00 L303.85,85.07 L304.14,85.15 L304.43,85.22 L304.72,85.29 L305.01,85.36 L305.29,85.42 L305.58,85.49 L305.87,85.56 L306.16,85.62 L306.45,85.69 L306.74,85.75 L307.03,85.82 L307.32,85.88 L307.60,85.94 L307.89,86.01 L308.18,86.07 L308.47,86.13 L308.76,86.19 L309.05,86.26 L309.34,86.32 L309.63,86.38 L309.91,86.44 L310.20,86.50 L310.49,86.56 L310.78,86.62 L311.07,86.69 L311.36,86.75 L311.65,86.81 L311.94,86.87 L312.22,86.93 L312.51,87.00 L312.80,87.06 L313.09,87.12 L313.38,87.19 L313.67,87.25 L313.96,87.32 L314.25,87.38 L314.53,87.45 L314.82,87.51 L315.11,87.58 L315.40,87.65 L315.69,87.71 L315.98,87.78 L316.27,87.84 L316.56,87.91 L316.84,87.97 L317.13,88.04 L317.42,88.11 L317.71,88.17 L318.00,88.24" stroke="#008000"/>
<path d="M202.50,120.50 L202.79,120.50 L203.08,120.50 L203.37,120.50 L203.66,120.50 L203.94,120.50 L204.23,120.50 L204.52,120.50 L204.81,120.50 L205.10,120.50 L205.39,120.50 L205.68,120.50 L205.96,120.50 L206.25,120.50 L206.54,120.50 L206.83,120.50 L207.12,120.50 L207.41,120.34 L207.70,120.03 L207.99,119.71 L208.27,119.39 L208.56,119.08 L208.85,118.26 L209.14,116.94 L209.43,115.62 L209.72,114.30 L210.01,112.98 L210.30,111.66 L210.58,110.26 L210.87,108.78 L211.16,107.31 L211.45,105.83 L211.74,104.35 L212.03,102.87 L212.32,101.39 L212.61,99.92 L212.89,98.44 L213.18,96.96 L213.47,95.48 L213.76,94.01 L214.05,92.53 L214.34,91.05 L214.63,89.57 L214.92,88.30 L215.20,87.23 L215.49,86.17 L215.78,85.10 L216.07,84.03 L216.36,82.97 L216.65,81.90 L216.94,80.83 L217.23,79.77 L217.51,78.70 L217.80,77.63 L218.09,76.57 L218.38,75.50 L218.67,74.43 L218.96,73.37 L219.25,72.30 L219.54,71.23 L219.82,70.17 L220.11,69.10 L220.40,67.97 L220.69,66.76 L220.98,65.56 L221.27,64.36 L221.56,63.16 L221.85,61.96 L222.13,60.76 L222.42,59.55 L222.71,58.35 L223.00,57.15 L223.29,55.95 L223.58,54.75 L223.87,53.55 L224.16,52.34 L224.44,51.14 L224.73,49.94 L225.02,48.74 L225.31,47.54 L225.60,46.34 L225.89,45.13 L226.18,43.62 L226.47,41.91 L226.75,40.12 L227.04,38.35 L227.33,36.73 L227.62,35.36 L227.91,34.37 L228.20,33.59 L228.49,32.86 L228.78,32.20 L229.06,31.68 L229.35,31.33 L229.64,31.20 L229.93,31.21 L230.22,31.23 L230.51,31.27 L230.80,31.31 L231.09,31.37 L231.37,31.44 L231.66,31.52 L231.95,31.67 L232.24,31.96 L232.53,32.36 L232.82,32.84 L233.11,33.37 L233.40,33.92 L233.68,34.47 L233.97,35.00 L234.26,35.53 L234.55,36.10 L234.84,36.71 L235.13,37.33 L235.42,37.97 L235.71,38.60 L235.99,39.21 L236.28,39.79 L236.57,40.34 L236.86,40.87 L237.15,41.41 L237.44,41.94 L237.73,42.46 L238.02,42.99 L238.30,43.51 L238.59,44.02 L238.88,44.53 L239.17,45.04 L239.46,45.54 L239.75,46.03 L240.04,46.52 L240.33,47.01 L240.61,47.49 L240.90,47.96 L241.19,48.43 L241.48,48.90 L241.77,49.35 L242.06,49.80 L242.35,50.25 L242.64,50.69 L242.92,51.12 L243.21,51.54 L243.50,51.96 L243.79,52.37 L244.08,52.77 L244.37,53.17 L244.66,53.56 L244.95,53.94 L245.23,54.33 L245.52,54.70 L245.81,55.08 L246.10,55.45 L246.39,55.81 L246.68,56.17 L246.97,56.53 L247.26,56.88 L247.54,57.23 L247.83,57.57 L248.12,57.91 L248.41,58.25 L248.70,58.58 L248.99,58.91 L249.28,59.24 L249.57,59.56 L249.85,59.88 L250.14,60.19 L250.43,60.50 L250.72,60.81 L251.01,61.11 L251.30,61.41 L251.59,61.70 L251.88,62.00 L252.16,62.29 L252.45,62.57 L252.74,62.85 L253.03,63.13 L253.32,63.41 L253.61,63.69 L253.90,63.97 L254.19,64.24 L254.47,64.52 L254.76,64.79 L255.05,65.06 L255.34,65.33 L255.63,65.60 L255.92,65.86 L256.21,66.12 L256.50,66.38 L256.78,66.63 L257.07,66.88 L257.36,67.13 L257.65,67.37 L257.94,67.61 L258.23,67.84 L258.52,68.07 L258.81,68.29 L259.09,68.51 L259.38,68.72 L259.67,68.92 L259.96,69.12 L260.25,69.31 L260.54,69.49 L260.83,69.67 L261.12,69.83 L261.40,70.00 L261.69,70.15 L261.98,70.31 L262.27,70.46 L262.56,70.61 L262.85,70.76 L263.14,70.90 L263.43,71.04 L263.71,71.18 L264.00,71.32 L264.29,71.45 L264.58,71.58 L264.87,71.71 L265.16,71.84 L265.45,71.96 L265.74,72.08 L266.02,72.20 L266.31,72.32 L266.60,72.44 L266.89,72.56 L267.18,72.67 L267.47,72.78 L267.76,72.89 L268.05,73.00 L268.33,73.11 L268.62,73.22 L268.91,73.33 L269.20,73.44 L269.49,73.54 L269.78,73.65 L270.07,73.75 L270.36,73.86 L270.64,73.96 L270.93,74.07 L271.22,74.17 L271.51,74.27 L271.80,74.38 L272.09,74.48 L272.38,74.59 L272.67,74.69 L272.95,74.80 L273.24,74.91 L273.53,75.01 L273.82,75.12 L274.11,75.23 L274.40,75.34 L274.69,75.45 L274.98,75.57 L275.26,75.68 L275.55,75.79 L275.84,75.91 L276.13,76.02 L276.42,76.13 L276.71,76.25 L277.00,76.36 L277.29,76.47 L277.57,76.58 L277.86,76.70 L278.15,76.81 L278.44,76.92 L278.73,77.03 L279.02,77.15 L279.31,77.26 L279.60,77.37 L279.88,77.48 L280.17,77.59 L280.46,77.70 L280.75,77.82 L281.04,77.93 L281.33,78.04 L281.62,78.15 L281.91,78.26 L282.19,78.37 L282.48,78.48 L282.77,78.59 L283.06,78.70 L283.35,78.81 L283.64,78.92 L283.93,79.03 L284.22,79.13 L284.50,79.24 L284.79,79.35 L285.08,79.46 L285.37,79.57 L285.66,79.67 L285.95,79.78 L286.24,79.89 L286.53,79.99 L286.81,80.10 L287.10,80.20 L287.39,80.31 L287.68,80.41 L287.97,80.52 L288.26,80.62 L288.55,80.72 L288.84,80.83 L289.12,80.93 L289.41,81.03 L289.70,81.13 L289.99,81.23 L290.28,81.33 L290.57,81.43 L290.86,81.53 L291.15,81.63 L291.43,81.73 L291.72,81.83 L292.01,81.93 L292.30,82.02 L292.59,82.12 L292.88,82.22 L293.17,82.31 L293.46,82.41 L293.74,82.50 L294.03,82.59 L294.32,82.69 L294.61,82.78 L294.90,82.87 L295.19,82.96 L295.48,83.05 L295.77,83.14 L296.05,83.23 L296.34,83.32 L296.63,83.41 L296.92,83.50 L297.21,83.59 L297.50,83.67 L297.79,83.76 L298.08,83.85 L298.36,83.93 L298.65,84.02 L298.94,84.10 L299.23,84.19 L299.52,84.27 L299.81,84.36 L300.10,84.44 L300.39,84.52 L300.67,84.61 L300.96,84.69 L301.25,84.77 L301.54,84.86 L301.83,84.94 L302.12,85.02 L302.41,85.10 L302.70,85.18 L302.98,85.27 L303.27,85.35 L303.56,85.43 L303.85,85.51 L304.14,85.59 L304.43,85.67 L304.72,85.75 L305.01,85.83 L305.29,85.91 L305.58,85.99 L305.87,86.07 L306.16,86.15 L306.45,86.23 L306.74,86.31 L307.03,86.39 L307.32,86.48 L307.60,86.56 L307.89,86.64 L308.18,86.72 L308.47,86.80 L308.76,86.88 L309.05,86.96 L309.34,87.04 L309.63,87.12 L309.91,87.20 L310.20,87.29 L310.49,87.37 L310.78,87.45 L311.07,87.53 L311.36,87.61 L311.65,87.70 L311.94,87.78 L312.22,87.86 L312.51,87.95 L312.80,88.03 L313.09,88.12 L313.38,88.20 L313.67,88.28 L313.96,88.37 L314.25,88.46 L314.53,88.54 L314.82,88.63 L315.11,88.71 L315.40,88.80 L315.69,88.88 L315.98,88.97 L316.27,89.06 L316.56,89.14 L316.84,89.23 L317.13,89.31 L317.42,89.40 L317.71,89.49 L318.00,89.57" stroke="#bf00bf"/>
<path d="M237.15,36.86V33.72M239.32,39.57V36.69M241.48,42.26V38.67M243.65,45.87V41.87M245.81,48.94V45.43M247.98,53.42V49.80M250.14,55.75V52.88M252.31,59.69V56.06M254.47,61.36V57.02M256.64,63.42V59.23M258.81,66.86V62.85M260.97,66.52V63.50M263.14,69.42V65.16M265.30,72.08V67.87M267.47,72.89V69.78M269.63,75.44V71.59M271.80,75.61V72.73M273.97,76.49V73.45M276.13,77.11V73.76M278.30,78.43V75.33M280.46,78.70V74.65M282.63,79.78V75.63M284.79,78.83V75.43M286.96,79.53V76.17M289.12,80.83V77.80M291.29,81.05V78.07M293.46,83.85V79.87M295.62,82.96V79.16M297.79,83.73V80.80M299.95,85.32V81.71M302.12,86.02V82.54M304.28,86.61V82.42M306.45,86.22V82.24M308.62,86.92V83.11M310.78,87.48V83.75M312.95,88.46V84.11M315.11,89.46V85.04M317.28,88.94V85.55" stroke="#777" stroke-width="0.45"/>
<path d="M202.50,120.50 L203.22,117.35 L203.94,114.24 L204.67,111.17 L205.39,108.15 L206.11,105.21 L206.83,102.33 L207.55,99.50 L208.28,96.67 L209.00,93.83 L209.72,90.94 L210.44,87.95 L211.16,84.73 L211.88,81.61 L212.61,78.99 L213.33,76.77 L214.05,74.76 L214.77,72.84 L215.49,70.88 L216.22,68.76 L216.94,66.47 L217.66,64.07 L218.38,61.59 L219.10,59.07 L219.82,56.55 L220.55,54.06 L221.27,51.63 L221.99,49.32 L222.71,47.14 L223.43,45.13 L224.16,43.28 L224.88,41.53 L225.60,39.86 L226.32,38.27 L227.04,36.74 L227.77,35.29 L228.49,33.83 L229.21,32.41 L229.93,31.24 L230.65,30.40 L231.38,29.93 L232.10,30.08 L232.82,30.41 L233.54,31.02 L234.26,31.30 L234.98,32.75 L235.71,33.39 L236.43,34.08 L237.15,35.29 L237.87,35.88 L238.59,36.73 L239.32,38.13 L240.04,38.10 L240.76,39.11 L241.48,40.47 L242.20,41.40 L242.93,42.26 L243.65,43.87 L244.37,45.12 L245.09,46.99 L245.81,47.19 L246.53,48.55 L247.26,49.59 L247.98,51.61 L248.70,51.11 L249.42,52.96 L250.14,54.31 L250.87,54.13 L251.59,56.20 L252.31,57.88 L253.03,58.26 L253.75,60.08 L254.47,59.19 L255.20,60.68 L255.92,61.56 L256.64,61.33 L257.36,63.37 L258.08,62.90 L258.81,64.86 L259.53,64.78 L260.25,65.70 L260.97,65.01 L261.69,65.51 L262.42,67.23 L263.14,67.29 L263.86,68.45 L264.58,68.69 L265.30,69.97 L266.02,71.09 L266.75,71.79 L267.47,71.33 L268.19,71.02 L268.91,72.60 L269.63,73.51 L270.36,72.69 L271.08,73.85 L271.80,74.17 L272.52,74.31 L273.24,74.70 L273.97,74.97 L274.69,75.73 L275.41,74.94 L276.13,75.43 L276.85,74.96 L277.57,75.92 L278.30,76.88 L279.02,76.14 L279.74,75.42 L280.46,76.68 L281.18,77.15 L281.91,77.54 L282.63,77.70 L283.35,77.57 L284.07,78.25 L284.79,77.13 L285.52,78.26 L286.24,78.30 L286.96,77.85 L287.68,78.05 L288.40,79.14 L289.12,79.31 L290.57,79.31 L290.57,79.56 L292.01,79.56 L292.01,80.53 L293.46,80.53 L293.46,81.86 L294.90,81.86 L294.90,81.06 L296.34,81.06 L296.34,81.47 L297.79,81.47 L297.79,82.27 L299.23,82.27 L299.23,83.51 L300.68,83.51 L300.68,83.62 L302.12,83.62 L302.12,84.28 L303.56,84.28 L303.56,84.52 L305.01,84.52 L305.01,84.02 L306.45,84.02 L306.45,84.23 L307.89,84.23 L307.89,85.01 L309.34,85.01 L309.34,85.38 L310.78,85.38 L310.78,85.61 L312.23,85.61 L312.23,86.28 L313.67,86.28 L313.67,86.62 L315.11,86.62 L315.11,87.25 L316.56,87.25 L316.56,87.25 L318.00,87.25 L318.00,86.35" stroke="#000000" stroke-width="2.1"/>
</g>
<g stroke="#000" stroke-width="0.6" fill="none">
<path d="M44.86,262.20 v-3.60 M44.86,6.20 v3.60"/>
<path d="M50.45,262.20 v-3.60 M50.45,6.20 v3.60"/>
<path d="M56.04,262.20 v-3.60 M56.04,6.20 v3.60"/>
<path d="M61.62,262.20 v-7.60 M61.62,6.20 v7.60"/>
<path d="M67.21,262.20 v-3.60 M67.21,6.20 v3.60"/>
<path d="M72.80,262.20 v-3.60 M72.80,6.20 v3.60"/>
<path d="M78.39,262.20 v-3.60 M78.39,6.20 v3.60"/>
<path d="M83.97,262.20 v-3.60 M83.97,6.20 v3.60"/>
<path d="M89.56,262.20 v-3.60 M89.56,6.20 v3.60"/>
<path d="M95.15,262.20 v-3.60 M95.15,6.20 v3.60"/>
<path d="M100.74,262.20 v-3.60 M100.74,6.20 v3.60"/>
<path d="M106.33,262.20 v-3.60 M106.33,6.20 v3.60"/>
<path d="M111.91,262.20 v-3.60 M111.91,6.20 v3.60"/>
<path d="M117.50,262.20 v-7.60 M117.50,6.20 v7.60"/>
<path d="M123.09,262.20 v-3.60 M123.09,6.20 v3.60"/>
<path d="M128.68,262.20 v-3.60 M128.68,6.20 v3.60"/>
<path d="M134.26,262.20 v-3.60 M134.26,6.20 v3.60"/>
<path d="M139.85,262.20 v-3.60 M139.85,6.20 v3.60"/>
<path d="M145.44,262.20 v-3.60 M145.44,6.20 v3.60"/>
<path d="M151.03,262.20 v-3.60 M151.03,6.20 v3.60"/>
<path d="M156.61,262.20 v-3.60 M156.61,6.20 v3.60"/>
<path d="M162.20,262.20 v-3.60 M162.20,6.20 v3.60"/>
<path d="M167.79,262.20 v-3.60 M167.79,6.20 v3.60"/>
<path d="M173.38,262.20 v-7.60 M173.38,6.20 v7.60"/>
<path d="M178.96,262.20 v-3.60 M178.96,6.20 v3.60"/>
<path d="M184.55,262.20 v-3.60 M184.55,6.20 v3.60"/>
<path d="M190.14,262.20 v-3.60 M190.14,6.20 v3.60"/>
<path d="M195.72,262.20 v-3.60 M195.72,6.20 v3.60"/>
<path d="M201.31,262.20 v-3.60 M201.31,6.20 v3.60"/>
<path d="M206.90,262.20 v-3.60 M206.90,6.20 v3.60"/>
<path d="M212.49,262.20 v-3.60 M212.49,6.20 v3.60"/>
<path d="M218.07,262.20 v-3.60 M218.07,6.20 v3.60"/>
<path d="M223.66,262.20 v-3.60 M223.66,6.20 v3.60"/>
<path d="M229.25,262.20 v-7.60 M229.25,6.20 v7.60"/>
<path d="M234.84,262.20 v-3.60 M234.84,6.20 v3.60"/>
<path d="M240.43,262.20 v-3.60 M240.43,6.20 v3.60"/>
<path d="M246.01,262.20 v-3.60 M246.01,6.20 v3.60"/>
<path d="M251.60,262.20 v-3.60 M251.60,6.20 v3.60"/>
<path d="M257.19,262.20 v-3.60 M257.19,6.20 v3.60"/>
<path d="M262.77,262.20 v-3.60 M262.77,6.20 v3.60"/>
<path d="M268.36,262.20 v-3.60 M268.36,6.20 v3.60"/>
<path d="M273.95,262.20 v-3.60 M273.95,6.20 v3.60"/>
<path d="M279.54,262.20 v-3.60 M279.54,6.20 v3.60"/>
<path d="M285.12,262.20 v-7.60 M285.12,6.20 v7.60"/>
<path d="M290.71,262.20 v-3.60 M290.71,6.20 v3.60"/>
<path d="M296.30,262.20 v-3.60 M296.30,6.20 v3.60"/>
<path d="M301.89,262.20 v-3.60 M301.89,6.20 v3.60"/>
<path d="M307.48,262.20 v-3.60 M307.48,6.20 v3.60"/>
<path d="M313.06,262.20 v-3.60 M313.06,6.20 v3.60"/>
<path d="M318.65,262.20 v-3.60 M318.65,6.20 v3.60"/>
<path d="M324.24,262.20 v-3.60 M324.24,6.20 v3.60"/>
<path d="M329.82,262.20 v-3.60 M329.82,6.20 v3.60"/>
<path d="M335.41,262.20 v-3.60 M335.41,6.20 v3.60"/>
<path d="M341.00,262.20 v-7.60 M341.00,6.20 v7.60"/>
<path d="M43.00,262.20 h7.80 M341.00,262.20 h-7.80"/>
<path d="M43.00,251.53 h3.80 M341.00,251.53 h-3.80"/>
<path d="M43.00,240.87 h3.80 M341.00,240.87 h-3.80"/>
<path d="M43.00,230.20 h7.80 M341.00,230.20 h-7.80"/>
<path d="M43.00,219.53 h3.80 M341.00,219.53 h-3.80"/>
<path d="M43.00,208.87 h3.80 M341.00,208.87 h-3.80"/>
<path d="M43.00,198.20 h7.80 M341.00,198.20 h-7.80"/>
<path d="M43.00,187.53 h3.80 M341.00,187.53 h-3.80"/>
<path d="M43.00,176.87 h3.80 M341.00,176.87 h-3.80"/>
<path d="M43.00,166.20 h7.80 M341.00,166.20 h-7.80"/>
<path d="M43.00,155.53 h3.80 M341.00,155.53 h-3.80"/>
<path d="M43.00,144.87 h3.80 M341.00,144.87 h-3.80"/>
<path d="M43.00,134.20 h7.80 M341.00,134.20 h-7.80"/>
<path d="M43.00,123.53 h3.80 M341.00,123.53 h-3.80"/>
<path d="M43.00,112.87 h3.80 M341.00,112.87 h-3.80"/>
<path d="M43.00,102.20 h7.80 M341.00,102.20 h-7.80"/>
<path d="M43.00,91.53 h3.80 M341.00,91.53 h-3.80"/>
<path d="M43.00,80.87 h3.80 M341.00,80.87 h-3.80"/>
<path d="M43.00,70.20 h7.80 M341.00,70.20 h-7.80"/>
<path d="M43.00,59.53 h3.80 M341.00,59.53 h-3.80"/>
<path d="M43.00,48.87 h3.80 M341.00,48.87 h-3.80"/>
<path d="M43.00,38.20 h7.80 M341.00,38.20 h-7.80"/>
<path d="M43.00,27.53 h3.80 M341.00,27.53 h-3.80"/>
<path d="M43.00,16.87 h3.80 M341.00,16.87 h-3.80"/>
<path d="M43.00,6.20 h7.80 M341.00,6.20 h-7.80"/>
</g>
<g stroke="#000" stroke-width="0.6" fill="none">
<path d="M202.60,121.20 v-7.60 M202.60,25.20 v7.60"/>
<path d="M208.36,121.20 v-3.80 M208.36,25.20 v3.80"/>
<path d="M214.13,121.20 v-3.80 M214.13,25.20 v3.80"/>
<path d="M219.89,121.20 v-3.80 M219.89,25.20 v3.80"/>
<path d="M225.66,121.20 v-3.80 M225.66,25.20 v3.80"/>
<path d="M231.42,121.20 v-7.60 M231.42,25.20 v7.60"/>
<path d="M237.19,121.20 v-3.80 M237.19,25.20 v3.80"/>
<path d="M242.95,121.20 v-3.80 M242.95,25.20 v3.80"/>
<path d="M248.72,121.20 v-3.80 M248.72,25.20 v3.80"/>
<path d="M254.48,121.20 v-3.80 M254.48,25.20 v3.80"/>
<path d="M260.25,121.20 v-7.60 M260.25,25.20 v7.60"/>
<path d="M266.01,121.20 v-3.80 M266.01,25.20 v3.80"/>
<path d="M271.78,121.20 v-3.80 M271.78,25.20 v3.80"/>
<path d="M277.54,121.20 v-3.80 M277.54,25.20 v3.80"/>
<path d="M283.31,121.20 v-3.80 M283.31,25.20 v3.80"/>
<path d="M289.07,121.20 v-7.60 M289.07,25.20 v7.60"/>
<path d="M294.84,121.20 v-3.80 M294.84,25.20 v3.80"/>
<path d="M300.60,121.20 v-3.80 M300.60,25.20 v3.80"/>
<path d="M306.37,121.20 v-3.80 M306.37,25.20 v3.80"/>
<path d="M312.13,121.20 v-3.80 M312.13,25.20 v3.80"/>
<path d="M317.90,121.20 v-7.60 M317.90,25.20 v7.60"/>
<path d="M202.60,121.20 h7.80 M317.90,121.20 h-7.80"/>
<path d="M202.60,117.36 h4.00 M317.90,117.36 h-4.00"/>
<path d="M202.60,113.52 h4.00 M317.90,113.52 h-4.00"/>
<path d="M202.60,109.68 h4.00 M317.90,109.68 h-4.00"/>
<path d="M202.60,105.84 h4.00 M317.90,105.84 h-4.00"/>
<path d="M202.60,102.00 h7.80 M317.90,102.00 h-7.80"/>
<path d="M202.60,98.16 h4.00 M317.90,98.16 h-4.00"/>
<path d="M202.60,94.32 h4.00 M317.90,94.32 h-4.00"/>
<path d="M202.60,90.48 h4.00 M317.90,90.48 h-4.00"/>
<path d="M202.60,86.64 h4.00 M317.90,86.64 h-4.00"/>
<path d="M202.60,82.80 h7.80 M317.90,82.80 h-7.80"/>
<path d="M202.60,78.96 h4.00 M317.90,78.96 h-4.00"/>
<path d="M202.60,75.12 h4.00 M317.90,75.12 h-4.00"/>
<path d="M202.60,71.28 h4.00 M317.90,71.28 h-4.00"/>
<path d="M202.60,67.44 h4.00 M317.90,67.44 h-4.00"/>
<path d="M202.60,63.60 h7.80 M317.90,63.60 h-7.80"/>
<path d="M202.60,59.76 h4.00 M317.90,59.76 h-4.00"/>
<path d="M202.60,55.92 h4.00 M317.90,55.92 h-4.00"/>
<path d="M202.60,52.08 h4.00 M317.90,52.08 h-4.00"/>
<path d="M202.60,48.24 h4.00 M317.90,48.24 h-4.00"/>
<path d="M202.60,44.40 h7.80 M317.90,44.40 h-7.80"/>
<path d="M202.60,40.56 h4.00 M317.90,40.56 h-4.00"/>
<path d="M202.60,36.72 h4.00 M317.90,36.72 h-4.00"/>
<path d="M202.60,32.88 h4.00 M317.90,32.88 h-4.00"/>
<path d="M202.60,29.04 h4.00 M317.90,29.04 h-4.00"/>
<path d="M202.60,25.20 h7.80 M317.90,25.20 h-7.80"/>
</g>
<rect x="43.0" y="6.2" width="298.0" height="256.0" fill="none" stroke="#111" stroke-width="1.15"/>
<rect x="202.6" y="25.2" width="115.29999999999998" height="96.0" fill="none" stroke="#111" stroke-width="1.05"/>
<g font-size="14" text-anchor="end">
<text transform="translate(39.6,265.9) scale(0.88,1)">0</text>
<text transform="translate(39.6,233.9) scale(0.88,1)">4</text>
<text transform="translate(39.6,201.9) scale(0.88,1)">8</text>
<text transform="translate(39.6,169.9) scale(0.88,1)">12</text>
<text transform="translate(39.6,137.9) scale(0.88,1)">16</text>
<text transform="translate(39.6,105.9) scale(0.88,1)">20</text>
<text transform="translate(39.6,73.9) scale(0.88,1)">24</text>
<text transform="translate(39.6,41.9) scale(0.88,1)">28</text>
<text transform="translate(39.6,9.9) scale(0.88,1)">32</text>
</g>
<g font-size="14" text-anchor="middle">
<text transform="translate(61.6,276.4) scale(0.9,1)">0</text>
<text transform="translate(117.5,276.4) scale(0.9,1)">30</text>
<text transform="translate(173.4,276.4) scale(0.9,1)">60</text>
<text transform="translate(229.2,276.4) scale(0.9,1)">90</text>
<text transform="translate(285.1,276.4) scale(0.9,1)">120</text>
<text transform="translate(341.0,276.4) scale(0.9,1)">150</text>
</g>
<g font-size="10" text-anchor="end">
<text transform="translate(200.6,124.7) scale(0.92,1)">0</text>
<text transform="translate(200.6,105.5) scale(0.92,1)">6</text>
<text transform="translate(200.6,86.3) scale(0.92,1)">12</text>
<text transform="translate(200.6,67.1) scale(0.92,1)">18</text>
<text transform="translate(200.6,47.9) scale(0.92,1)">24</text>
<text transform="translate(200.6,28.7) scale(0.92,1)">30</text>
</g>
<g font-size="10" text-anchor="middle">
<path d="M194.60,127.60 h5.4" stroke="#000" stroke-width="0.6"/>
<text transform="translate(206.2,130.7) scale(0.92,1)">10</text>
<text transform="translate(231.4,130.7) scale(0.92,1)">0</text>
<text transform="translate(260.2,130.7) scale(0.92,1)">10</text>
<text transform="translate(289.1,130.7) scale(0.92,1)">20</text>
<text transform="translate(317.9,130.7) scale(0.92,1)">30</text>
</g>
<g stroke-width="1.9" fill="none">
<path d="M244,137.8 H261.7" stroke="#0000ff"/>
<path d="M244,154.5 H261.7" stroke="#ff0000"/>
<path d="M244,170.6 H261.7" stroke="#008000"/>
<path d="M244,186.7 H261.7" stroke="#bf00bf"/>
<path d="M244,203.1 H261.7" stroke="#000000"/>
</g>
<g font-size="11">
<text class="mono" xml:space="preserve" style="white-space:pre" transform="translate(273.6,141.7) scale(0.865,1)" font-size="10.7" stroke="#000" stroke-width="0.3">rp 53</text><path d="M285.9,142.6 h3.0" stroke="#777" stroke-width="0.6"/>
<text class="mono" xml:space="preserve" style="white-space:pre" transform="translate(273.6,158.4) scale(0.865,1)" font-size="10.7" stroke="#000" stroke-width="0.3">rp 153</text><path d="M285.9,159.3 h3.0" stroke="#777" stroke-width="0.6"/>
<text class="mono" xml:space="preserve" style="white-space:pre" transform="translate(273.6,174.5) scale(0.865,1)" font-size="10.7" stroke="#000" stroke-width="0.3">rp 305</text><path d="M285.9,175.4 h3.0" stroke="#777" stroke-width="0.6"/>
<text transform="translate(273.8,191.0) scale(0.965,1)" font-size="12">Adaptive</text>
<text transform="translate(273.8,206.9) scale(0.915,1)" font-size="12">GS 1826-24</text>
</g>
<text x="179.4" y="292.2" font-size="17" font-style="italic">t</text>
<path d="M186.3,281.3 L187.6,281.9 L185.5,286.3 L184.9,286.0 Z" fill="#000"/>
<path d="M194.7,281.5 H192.9 V295.6 H194.7" stroke="#000" stroke-width="0.9" fill="none"/>
<text x="195.3" y="292.2" font-size="14">s</text>
<path d="M200.7,281.5 H202.5 V295.6 H200.7" stroke="#000" stroke-width="0.9" fill="none"/>
<g transform="translate(12.6,199.4) rotate(-90)" font-size="13.4" opacity="0.999">
<text x="-0.6" y="0" font-style="italic" font-size="15" textLength="11.6" lengthAdjust="spacingAndGlyphs">F</text>
<path d="M20.4,-11 H17.6 V3.1 H20.4" stroke="#000" stroke-width="0.75" fill="none"/>
<text x="19.9" y="0">10</text>
<path d="M33.6,-8.2 h6.8" stroke="#000" stroke-width="0.7"/>
<text x="41.6" y="-5.3" font-size="9.5">9</text>
<text x="50.8" y="0" textLength="18.0" lengthAdjust="spacingAndGlyphs">erg</text>
<text x="73.6" y="0">cm</text>
<path d="M91.2,-8.2 h6.8" stroke="#000" stroke-width="0.7"/>
<text x="98.6" y="-5.3" font-size="9.5">2</text>
<text x="108.4" y="0">s</text>
<path d="M115.1,-8.2 h6.8" stroke="#000" stroke-width="0.7"/>
<text x="122.4" y="-5.3" font-size="9.5">1</text>
<path d="M126.3,-11 H128.8 V3.1 H126.3" stroke="#000" stroke-width="0.75" fill="none"/>
</g>
</svg>
</body></html>
